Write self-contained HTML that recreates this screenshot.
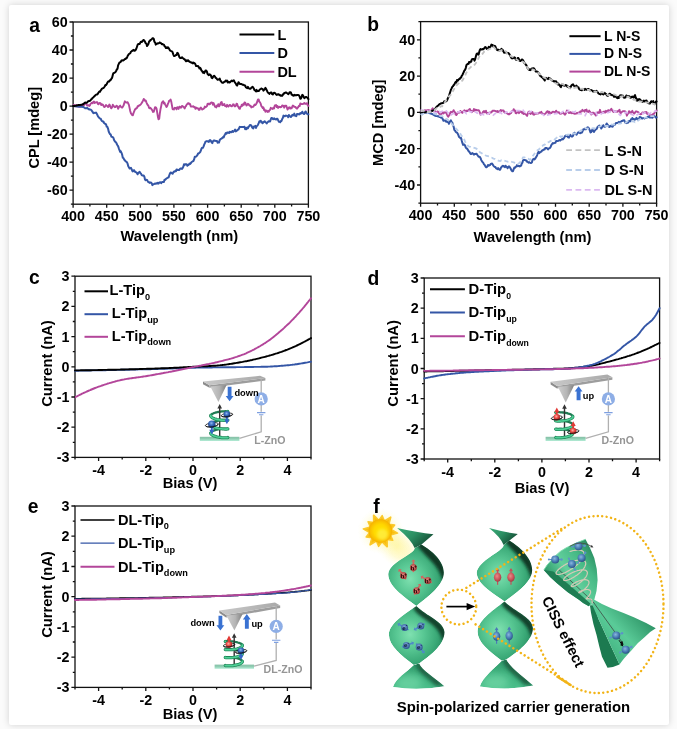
<!DOCTYPE html>
<html><head><meta charset="utf-8"><title>Figure</title>
<style>
html,body{margin:0;padding:0;background:#fbfbfb;}
body{width:677px;height:729px;overflow:hidden;position:relative;font-family:"Liberation Sans",sans-serif;}
.card{position:absolute;left:9px;top:5px;width:660px;height:719.8px;background:#fff;border-radius:2px;box-shadow:0 0 7px rgba(0,0,0,0.17);}
svg{position:absolute;left:0;top:0;will-change:transform;}
svg text{font-family:"Liberation Sans",sans-serif;font-weight:bold;fill:#000;}
</style></head><body>
<div class="card"></div>
<svg width="677" height="729" viewBox="0 0 677 729">
<rect x="73.1" y="22" width="235.3" height="182.2" fill="none" stroke="#111" stroke-width="1.3"/>
<polyline points="73.1,105.7 73.8,105 74.4,105.1 75.1,105.5 75.8,106.3 76.5,104.9 77.1,105.5 77.8,106.5 78.5,106 79.2,106.1 79.8,106.9 80.5,105.2 81.2,106.4 81.8,105.8 82.5,105.1 83.2,103.8 83.9,105.4 84.5,104.3 85.2,103.8 85.9,103 86.5,104.3 87.2,105.6 87.9,105.4 88.6,105.1 89.2,106 89.9,105.3 90.6,103.8 91.3,103.3 91.9,102.8 92.6,103.2 93.3,101.8 93.9,101.5 94.6,103 95.3,102.4 96,102.5 96.6,102.2 97.3,102.3 98,104.1 98.6,104.3 99.3,103.2 100,102.9 100.7,103.4 101.3,105.1 102,104.5 102.7,104.4 103.4,105.6 104,106.8 104.7,107 105.4,106 106,105 106.7,105.6 107.4,106.2 108.1,107 108.7,106.1 109.4,104.5 110.1,106 110.7,107.5 111.4,108.3 112.1,107.3 112.8,104.7 113.4,105.7 114.1,106.5 114.8,107.2 115.5,107 116.1,106 116.8,105.7 117.5,106.8 118.1,108.8 118.8,107.3 119.5,106.2 120.2,105.6 120.8,106.8 121.5,107.3 122.2,107.6 122.8,106.7 123.5,105.6 124.2,103.4 124.9,101.3 125.5,102.1 126.2,102.5 126.9,102.3 127.6,102.1 128.2,103.3 128.9,104.9 129.6,108.1 130.2,111 130.9,113.3 131.6,114.1 132.3,115.1 132.9,115.3 133.6,112.8 134.3,111.2 135,109.2 135.6,109.3 136.3,108.1 137,108 137.6,106.2 138.3,106.4 139,105.4 139.7,105.3 140.3,104.8 141,104.1 141.7,103 142.3,102.1 143,100.7 143.7,99 144.4,99.7 145,100.8 145.7,100.4 146.4,102.3 147.1,104 147.7,105 148.4,105.7 149.1,107.9 149.7,108.3 150.4,107.8 151.1,108.6 151.8,109.5 152.4,110.6 153.1,112 153.8,111.7 154.4,109.4 155.1,107.1 155.8,107.3 156.5,108.4 157.1,111.8 157.8,116.2 158.5,119.4 159.2,118.8 159.8,113.7 160.5,109.2 161.2,106.1 161.8,102.8 162.5,102 163.2,101.2 163.9,103.5 164.5,102.8 165.2,104.6 165.9,105.9 166.5,107 167.2,105.9 167.9,103.9 168.6,102.4 169.2,100.6 169.9,100.6 170.6,99.6 171.3,101.8 171.9,105.1 172.6,109.2 173.3,109.2 173.9,109.5 174.6,107.8 175.3,108.3 176,107.9 176.6,109.3 177.3,107.1 178,108.2 178.6,108.9 179.3,106.8 180,106.8 180.7,107.7 181.3,107.5 182,105.9 182.7,106.3 183.4,106.8 184,107.4 184.7,108.4 185.4,106.6 186,106 186.7,104.6 187.4,104.1 188.1,103.1 188.7,103.1 189.4,104.3 190.1,104 190.8,106.6 191.4,106.5 192.1,106.6 192.8,106.5 193.4,106.2 194.1,107.3 194.8,107 195.5,108.8 196.1,107.6 196.8,108.4 197.5,108.2 198.1,108.4 198.8,109.9 199.5,109.8 200.2,108.2 200.8,107.5 201.5,108.4 202.2,109.6 202.9,109.1 203.5,108.9 204.2,108.1 204.9,106.5 205.5,107.3 206.2,106.7 206.9,106.3 207.6,103.8 208.2,104.4 208.9,103.5 209.6,104.3 210.2,103.9 210.9,102.6 211.6,102.5 212.3,102.6 212.9,104.7 213.6,103.1 214.3,104.8 215,106.7 215.6,106.4 216.3,107.5 217,105.6 217.6,106 218.3,104.2 219,106.4 219.7,105.4 220.3,103.9 221,102.4 221.7,102 222.3,105.2 223,104.3 223.7,105.1 224.4,104 225,106 225.7,105.9 226.4,106.7 227.1,104.8 227.7,105.8 228.4,106.5 229.1,105.7 229.7,104.9 230.4,105.2 231.1,106.1 231.8,106.3 232.4,105.8 233.1,104.3 233.8,104.5 234.4,105.9 235.1,106.4 235.8,105.8 236.5,103.7 237.1,103.9 237.8,106.2 238.5,107 239.2,108.6 239.8,108.8 240.5,106.9 241.2,106.5 241.8,104.6 242.5,105.7 243.2,104.1 243.9,104.8 244.5,102.4 245.2,102.6 245.9,104.4 246.5,105.5 247.2,104.8 247.9,103.7 248.6,104.2 249.2,105.2 249.9,105.8 250.6,105.7 251.3,107.4 251.9,107 252.6,106.8 253.3,106.8 253.9,105.7 254.6,104.6 255.3,105 256,104.3 256.6,103.3 257.3,101.4 258,99.4 258.7,99.4 259.3,101.8 260,102.3 260.7,103.7 261.3,105.9 262,106.8 262.7,108 263.4,107.3 264,110.1 264.7,109.5 265.4,111.8 266,111 266.7,110.6 267.4,111.9 268.1,111 268.7,111.8 269.4,110.3 270.1,109.9 270.8,107.8 271.4,108.5 272.1,108.4 272.8,108.9 273.4,107.8 274.1,108.4 274.8,105.5 275.5,105.4 276.1,105 276.8,107.1 277.5,106.1 278.1,107.9 278.8,106.9 279.5,106.8 280.2,107 280.8,107.3 281.5,106.9 282.2,105.4 282.9,105.6 283.5,106 284.2,107.7 284.9,105.7 285.5,105.9 286.2,105.7 286.9,107.6 287.6,109.6 288.2,108.6 288.9,107.5 289.6,107.3 290.2,108.6 290.9,107.7 291.6,108.3 292.3,106.6 292.9,105.6 293.6,106.6 294.3,106.4 295,107.1 295.6,107 296.3,108.3 297,108.7 297.6,107.8 298.3,107 299,105.8 299.7,106.1 300.3,103.5 301,103.7 301.7,104.1 302.3,104.1 303,104 303.7,103.6 304.4,102.9 305,103.8 305.7,103.9 306.4,103.4 307.1,103.2 307.7,105.1 308.4,105.9" fill="none" stroke="#b3469a" stroke-width="1.9" stroke-linejoin="round" stroke-linecap="round" />
<polyline points="73.1,106.1 73.8,106.1 74.4,106.2 75.1,106.2 75.8,106.3 76.5,106.4 77.1,106.5 77.8,106.6 78.5,106.7 79.2,106.6 79.8,106.6 80.5,106.5 81.2,106.7 81.8,106.7 82.5,106.9 83.2,106.9 83.9,107.4 84.5,107.6 85.2,108.3 85.9,108.3 86.5,108.3 87.2,107.8 87.9,108.7 88.6,109 89.2,109.6 89.9,109.4 90.6,109.6 91.3,110 91.9,110.9 92.6,111.9 93.3,113.1 93.9,112.7 94.6,112.9 95.3,112.8 96,112.6 96.6,113.6 97.3,114.8 98,116.4 98.6,117.1 99.3,117.9 100,118.5 100.7,118.7 101.3,120.2 102,121 102.7,121.6 103.4,121.5 104,122.9 104.7,123.5 105.4,124.1 106,124.2 106.7,126.6 107.4,126.9 108.1,128.8 108.7,131.5 109.4,133 110.1,134.3 110.7,134.5 111.4,136.8 112.1,136.8 112.8,137.1 113.4,137.8 114.1,140.1 114.8,141.3 115.5,142 116.1,142.4 116.8,144.1 117.5,145.3 118.1,146.1 118.8,148.3 119.5,150.1 120.2,151.9 120.8,151.3 121.5,152.8 122.2,154.9 122.8,157.7 123.5,158.1 124.2,159.7 124.9,160.3 125.5,161.3 126.2,161.6 126.9,162.2 127.6,163.7 128.2,166 128.9,167.3 129.6,168.5 130.2,168.1 130.9,167.8 131.6,169.2 132.3,170.9 132.9,171.4 133.6,170.3 134.3,170.3 135,171.8 135.6,172 136.3,172.3 137,173.3 137.6,174.3 138.3,172.8 139,172.4 139.7,171.8 140.3,173.2 141,173.6 141.7,175.1 142.3,175.5 143,175.6 143.7,175.5 144.4,176.8 145,179.5 145.7,180.2 146.4,179.8 147.1,179.9 147.7,181.2 148.4,182.3 149.1,182.3 149.7,182.9 150.4,182.6 151.1,182.6 151.8,183.4 152.4,185.1 153.1,184.5 153.8,184.2 154.4,183.8 155.1,183.5 155.8,183.8 156.5,183.2 157.1,183.4 157.8,182.8 158.5,183.6 159.2,182.5 159.8,182.5 160.5,182.2 161.2,183.2 161.8,182.1 162.5,181.9 163.2,182 163.9,181.9 164.5,179.8 165.2,179.8 165.9,178.9 166.5,178.4 167.2,178.1 167.9,177.5 168.6,177.5 169.2,175.5 169.9,173.6 170.6,172.5 171.3,172.7 171.9,173.3 172.6,173.7 173.3,172.4 173.9,171.6 174.6,171.8 175.3,170.7 176,171.2 176.6,169.4 177.3,169.6 178,170.1 178.6,170 179.3,169.9 180,168.8 180.7,168.4 181.3,168.5 182,169 182.7,167.9 183.4,166.5 184,164.3 184.7,164.9 185.4,164.2 186,164.6 186.7,164.3 187.4,165.8 188.1,164.7 188.7,164.9 189.4,163.6 190.1,163.9 190.8,163.3 191.4,162.2 192.1,161.7 192.8,161.2 193.4,161 194.1,159.4 194.8,156.7 195.5,156.7 196.1,156.6 196.8,155.9 197.5,154.9 198.1,153.5 198.8,153.4 199.5,152.7 200.2,152.1 200.8,150.7 201.5,148.6 202.2,147.7 202.9,147.8 203.5,146.6 204.2,144.7 204.9,143.2 205.5,141.7 206.2,141.4 206.9,141.1 207.6,141.4 208.2,141.3 208.9,141.9 209.6,140.3 210.2,140.1 210.9,140.8 211.6,142.4 212.3,143.1 212.9,141.4 213.6,140.5 214.3,140.5 215,140.7 215.6,140.9 216.3,140.9 217,141 217.6,142.8 218.3,142.2 219,142.5 219.7,140.1 220.3,139.3 221,138.8 221.7,138.5 222.3,138 223,137.1 223.7,137.4 224.4,135.4 225,134.4 225.7,133.1 226.4,133.8 227.1,132.5 227.7,132.4 228.4,132.8 229.1,132.9 229.7,131.8 230.4,132 231.1,132.3 231.8,132.1 232.4,131 233.1,131.9 233.8,131.2 234.4,130.7 235.1,129.6 235.8,131.4 236.5,131 237.1,130.4 237.8,129.7 238.5,129.5 239.2,127.9 239.8,126.8 240.5,127.1 241.2,126.9 241.8,126.9 242.5,126.9 243.2,127 243.9,126.9 244.5,126.7 245.2,129.3 245.9,128 246.5,129.1 247.2,127.5 247.9,128.3 248.6,126.8 249.2,126.1 249.9,125.1 250.6,125.1 251.3,125.4 251.9,126.9 252.6,128 253.3,128.5 253.9,126.5 254.6,126.5 255.3,125.9 256,127.9 256.6,126.2 257.3,125.7 258,124.7 258.7,123.2 259.3,121.5 260,121.2 260.7,120.7 261.3,122.4 262,122 262.7,123.1 263.4,122.3 264,121.9 264.7,121.2 265.4,122.3 266,122.4 266.7,123.4 267.4,122.3 268.1,121.9 268.7,121.2 269.4,121.4 270.1,121.5 270.8,119.3 271.4,117.9 272.1,117.9 272.8,119.1 273.4,119.3 274.1,118.3 274.8,119 275.5,119.3 276.1,119.5 276.8,118.8 277.5,118.8 278.1,120.1 278.8,121.7 279.5,121.8 280.2,122.3 280.8,121.1 281.5,121 282.2,119 282.9,117.8 283.5,115.6 284.2,116 284.9,116.2 285.5,115.6 286.2,115.8 286.9,115.7 287.6,116.2 288.2,117.1 288.9,115 289.6,116.2 290.2,116.3 290.9,117 291.6,116.2 292.3,114.9 292.9,115.4 293.6,115.3 294.3,113.6 295,115.7 295.6,115.6 296.3,116.2 297,114.1 297.6,114 298.3,114 299,114.5 299.7,114.2 300.3,113.1 301,113.5 301.7,112.9 302.3,111.7 303,113.2 303.7,113.9 304.4,114 305,112.2 305.7,111.5 306.4,113.1 307.1,113.7 307.7,114.3 308.4,114.3" fill="none" stroke="#3456a6" stroke-width="2.0" stroke-linejoin="round" stroke-linecap="round" />
<polyline points="73.1,106.1 73.8,106 74.4,105.9 75.1,105.8 75.8,105.7 76.5,105.5 77.1,105.4 77.8,105.2 78.5,105.1 79.2,105 79.8,104.9 80.5,104.9 81.2,104.7 81.8,104.8 82.5,104.4 83.2,104.2 83.9,103.5 84.5,103.1 85.2,102.5 85.9,102.7 86.5,102.7 87.2,102.6 87.9,101.4 88.6,101.1 89.2,101.1 89.9,100.9 90.6,100.2 91.3,99.2 91.9,98.8 92.6,97.9 93.3,97.5 93.9,96.6 94.6,96.2 95.3,95.2 96,94.7 96.6,94.6 97.3,94.6 98,93.4 98.6,92.5 99.3,91.5 100,91.7 100.7,90.4 101.3,89.8 102,88.6 102.7,88.3 103.4,88.1 104,87.4 104.7,86.5 105.4,85 106,85.1 106.7,84.2 107.4,82.6 108.1,81.7 108.7,81.3 109.4,81.4 110.1,80.1 110.7,80 111.4,78.7 112.1,77.8 112.8,74.9 113.4,73.2 114.1,73 114.8,72.6 115.5,72 116.1,71 116.8,69.5 117.5,68.8 118.1,65.4 118.8,63.9 119.5,62.4 120.2,62.3 120.8,61.8 121.5,60.4 122.2,60.3 122.8,60.4 123.5,60.4 124.2,59.7 124.9,59.1 125.5,59.1 126.2,58 126.9,58 127.6,56 128.2,55.1 128.9,54 129.6,53.6 130.2,53.4 130.9,51.8 131.6,51.3 132.3,50.6 132.9,50.7 133.6,49.9 134.3,50.7 135,50.7 135.6,50 136.3,48.8 137,46.7 137.6,44.8 138.3,44 139,44 139.7,43.9 140.3,42.6 141,41.7 141.7,42.1 142.3,41.5 143,40.3 143.7,40 144.4,40.7 145,41.8 145.7,43.2 146.4,43.7 147.1,46.1 147.7,45.1 148.4,44 149.1,41.5 149.7,41.2 150.4,39.9 151.1,39.8 151.8,39.1 152.4,38.3 153.1,38.3 153.8,39 154.4,41.8 155.1,42.4 155.8,44.6 156.5,44 157.1,43.8 157.8,43.2 158.5,43.4 159.2,43 159.8,42.4 160.5,43.1 161.2,43.3 161.8,44.2 162.5,44 163.2,44.6 163.9,44.7 164.5,46.1 165.2,46.6 165.9,48 166.5,47.4 167.2,48.1 167.9,47.2 168.6,48.1 169.2,49.1 169.9,50.3 170.6,50.9 171.3,51.1 171.9,51.4 172.6,52.2 173.3,54.5 173.9,56 174.6,56 175.3,55.6 176,54.8 176.6,55 177.3,52.9 178,53.4 178.6,54.9 179.3,56.9 180,58 180.7,57.9 181.3,57.9 182,57.3 182.7,58 183.4,58.5 184,59.2 184.7,59.2 185.4,60.4 186,61.3 186.7,60.4 187.4,60.9 188.1,60.2 188.7,61.3 189.4,61.3 190.1,62.1 190.8,62.3 191.4,62.7 192.1,62.6 192.8,63.4 193.4,62.5 194.1,63 194.8,63.3 195.5,64.5 196.1,66.1 196.8,66.1 197.5,66.2 198.1,66 198.8,67 199.5,68.5 200.2,67.9 200.8,68.8 201.5,70.6 202.2,71.2 202.9,72.6 203.5,71.9 204.2,73.1 204.9,71.8 205.5,70.5 206.2,70.5 206.9,71.6 207.6,74 208.2,74.7 208.9,75.2 209.6,74.3 210.2,74.6 210.9,75.4 211.6,77.6 212.3,78.1 212.9,77.2 213.6,75.9 214.3,75.8 215,76.6 215.6,77.8 216.3,78.2 217,79.1 217.6,79.7 218.3,79.5 219,79.4 219.7,78.6 220.3,80.5 221,81.2 221.7,82.3 222.3,82.7 223,82.8 223.7,82.4 224.4,81.7 225,81.7 225.7,80.5 226.4,81.1 227.1,80.6 227.7,82.5 228.4,81.7 229.1,82.4 229.7,82.4 230.4,81.9 231.1,81 231.8,80.6 232.4,81.2 233.1,80.7 233.8,80.3 234.4,81.5 235.1,82.7 235.8,83.6 236.5,85 237.1,85.6 237.8,84 238.5,82.2 239.2,83.1 239.8,84.1 240.5,84.1 241.2,83.9 241.8,84.1 242.5,84.8 243.2,84.8 243.9,85 244.5,85.5 245.2,85.5 245.9,87.4 246.5,87.7 247.2,88.1 247.9,86.9 248.6,88.2 249.2,88.5 249.9,88.7 250.6,88.7 251.3,87.7 251.9,87.2 252.6,86.7 253.3,87.7 253.9,88.8 254.6,90.2 255.3,90.4 256,91.4 256.6,89.9 257.3,91.2 258,90.9 258.7,91.1 259.3,90.2 260,89.4 260.7,89 261.3,88.5 262,88.8 262.7,89.2 263.4,90.7 264,89.9 264.7,89.4 265.4,87.8 266,88.7 266.7,90.1 267.4,91.7 268.1,92.8 268.7,93 269.4,93.9 270.1,93 270.8,92.4 271.4,92.5 272.1,94.1 272.8,94.5 273.4,93.5 274.1,92.7 274.8,92.9 275.5,93.5 276.1,94.5 276.8,94.9 277.5,94.6 278.1,94.2 278.8,94.3 279.5,95.2 280.2,95.1 280.8,95.8 281.5,95.5 282.2,95.8 282.9,94.3 283.5,94.4 284.2,93 284.9,93 285.5,92.4 286.2,92.5 286.9,93.1 287.6,93.5 288.2,94.2 288.9,93.6 289.6,92.2 290.2,92.3 290.9,92.5 291.6,94.8 292.3,94.7 292.9,95.5 293.6,95.7 294.3,94.9 295,95.4 295.6,95.2 296.3,95.2 297,95 297.6,94.9 298.3,95 299,95.4 299.7,96.9 300.3,98.7 301,98.5 301.7,96.6 302.3,94.9 303,95.3 303.7,97.1 304.4,98.1 305,97.7 305.7,96.9 306.4,96.9 307.1,97.6 307.7,97.9 308.4,99.1" fill="none" stroke="#000000" stroke-width="2.0" stroke-linejoin="round" stroke-linecap="round" />
<path d="M73.1,204.2v3.6M106.7,204.2v3.6M140.3,204.2v3.6M173.9,204.2v3.6M207.6,204.2v3.6M241.2,204.2v3.6M274.8,204.2v3.6M308.4,204.2v3.6M89.9,204.2v2.2M123.5,204.2v2.2M157.1,204.2v2.2M190.8,204.2v2.2M224.4,204.2v2.2M258,204.2v2.2M291.6,204.2v2.2" stroke="#111" stroke-width="1.3" fill="none"/>
<text x="73.1" y="221.2" text-anchor="middle" font-size="14.3">400</text>
<text x="106.7" y="221.2" text-anchor="middle" font-size="14.3">450</text>
<text x="140.3" y="221.2" text-anchor="middle" font-size="14.3">500</text>
<text x="173.9" y="221.2" text-anchor="middle" font-size="14.3">550</text>
<text x="207.6" y="221.2" text-anchor="middle" font-size="14.3">600</text>
<text x="241.2" y="221.2" text-anchor="middle" font-size="14.3">650</text>
<text x="274.8" y="221.2" text-anchor="middle" font-size="14.3">700</text>
<text x="308.4" y="221.2" text-anchor="middle" font-size="14.3">750</text>
<path d="M73.1,190.2h-3.6M73.1,162.2h-3.6M73.1,134.1h-3.6M73.1,106.1h-3.6M73.1,78.1h-3.6M73.1,50h-3.6M73.1,22h-3.6M73.1,204.2h-2.2M73.1,176.2h-2.2M73.1,148.1h-2.2M73.1,120.1h-2.2M73.1,92.1h-2.2M73.1,64h-2.2M73.1,36h-2.2" stroke="#111" stroke-width="1.3" fill="none"/>
<text x="67.6" y="195.2" text-anchor="end" font-size="14.3">-60</text>
<text x="67.6" y="167.2" text-anchor="end" font-size="14.3">-40</text>
<text x="67.6" y="139.1" text-anchor="end" font-size="14.3">-20</text>
<text x="67.6" y="111.1" text-anchor="end" font-size="14.3">0</text>
<text x="67.6" y="83.1" text-anchor="end" font-size="14.3">20</text>
<text x="67.6" y="55" text-anchor="end" font-size="14.3">40</text>
<text x="67.6" y="27" text-anchor="end" font-size="14.3">60</text>
<text transform="translate(38.5,127.8) rotate(-90)" text-anchor="middle" font-size="14.6">CPL [mdeg]</text>
<text x="179.3" y="241.4" text-anchor="middle" font-size="14.7">Wavelength (nm)</text>
<text x="29.2" y="31.6" font-size="19.3">a</text>
<path d="M239.5,34.5H274.3" stroke="#000000" stroke-width="2"/>
<text x="277.4" y="39.7" font-size="14.5">L</text>
<path d="M239.5,53.1H274.3" stroke="#3456a6" stroke-width="2"/>
<text x="277.4" y="58.3" font-size="14.5">D</text>
<path d="M239.5,71.7H274.3" stroke="#b3469a" stroke-width="2"/>
<text x="277.4" y="76.9" font-size="14.5">DL</text>
<rect x="420.6" y="21.6" width="236" height="181.6" fill="none" stroke="#111" stroke-width="1.3"/>
<polyline points="420.6,112 421.3,111.6 421.9,111.3 422.6,111.1 423.3,111.8 424,111.4 424.6,110.2 425.3,110.3 426,111 426.7,110.3 427.3,111.2 428,109.9 428.7,111.2 429.4,110.3 430,111.9 430.7,111.7 431.4,110.1 432.1,109.2 432.7,108.2 433.4,110.5 434.1,109.2 434.8,111.2 435.4,111.9 436.1,112.7 436.8,111.6 437.5,111.5 438.1,111.7 438.8,113 439.5,114.1 440.2,114.6 440.8,114.3 441.5,113.7 442.2,113.2 442.9,112.3 443.5,113.5 444.2,112.6 444.9,112.3 445.5,112.5 446.2,112.4 446.9,114.3 447.6,116 448.2,116.8 448.9,115.5 449.6,114.9 450.3,112.6 450.9,111.8 451.6,112.4 452.3,112 453,111.4 453.6,110.2 454.3,111.7 455,112.3 455.7,114.6 456.3,115.1 457,114.2 457.7,112.2 458.4,112.2 459,112.7 459.7,112.2 460.4,110.9 461.1,112.2 461.7,112.2 462.4,112.9 463.1,111.5 463.8,111.4 464.4,110.3 465.1,110.8 465.8,111.4 466.5,111.2 467.1,110.4 467.8,111 468.5,110.6 469.1,109.4 469.8,108.9 470.5,110.6 471.2,110.7 471.8,112.2 472.5,111.1 473.2,111 473.9,109 474.5,110.7 475.2,109.8 475.9,109.8 476.6,110.4 477.2,110.2 477.9,110.4 478.6,110.1 479.3,111.1 479.9,112.5 480.6,114.6 481.3,113.7 482,113.5 482.6,112.8 483.3,111.5 484,111.1 484.7,112.3 485.3,111.7 486,110.8 486.7,113.4 487.4,113 488,113.2 488.7,112.8 489.4,113.7 490.1,112.3 490.7,112.5 491.4,112.3 492.1,111.4 492.7,110.6 493.4,110.7 494.1,110.6 494.8,110.9 495.4,111 496.1,111.4 496.8,111.8 497.5,110.9 498.1,112.2 498.8,111.6 499.5,112.2 500.2,110.6 500.8,110 501.5,111.1 502.2,110.4 502.9,110.4 503.5,110.4 504.2,112.2 504.9,112.9 505.6,112.5 506.2,112.4 506.9,113 507.6,113.8 508.3,114.3 508.9,114.1 509.6,114.3 510.3,113.1 511,113.1 511.6,111.8 512.3,110.9 513,111 513.7,109.2 514.3,110.5 515,110.5 515.7,113.2 516.3,113.4 517,112.4 517.7,112.4 518.4,111.7 519,113.2 519.7,111.6 520.4,111.5 521.1,112.2 521.7,111.7 522.4,113.3 523.1,112.4 523.8,114 524.4,113.4 525.1,114 525.8,114.3 526.5,115.3 527.1,115.9 527.8,113.4 528.5,111.8 529.2,111.5 529.8,113.1 530.5,114 531.2,113.4 531.9,113.1 532.5,112.1 533.2,114.4 533.9,114.8 534.6,114.1 535.2,113.3 535.9,113.8 536.6,113.6 537.3,113.5 537.9,113.5 538.6,113.3 539.3,112.6 539.9,112.5 540.6,112.8 541.3,111.8 542,113.8 542.6,113.5 543.3,113.9 544,114.2 544.7,114.2 545.3,113.6 546,112.9 546.7,111.9 547.4,111.2 548,111.4 548.7,113.3 549.4,111.8 550.1,113 550.7,113.1 551.4,113.1 552.1,112.2 552.8,111.7 553.4,111.8 554.1,111.9 554.8,112.7 555.5,111.9 556.1,110.7 556.8,111.8 557.5,112.2 558.2,112.6 558.8,112.2 559.5,113 560.2,113.8 560.9,113.5 561.5,113.5 562.2,112.7 562.9,112.4 563.5,112.9 564.2,113.8 564.9,114.7 565.6,113.8 566.2,112.8 566.9,110.5 567.6,111.1 568.3,112 568.9,113 569.6,112.9 570.3,112.1 571,112.9 571.6,113.3 572.3,112.2 573,113.3 573.7,112.8 574.3,113.9 575,113.9 575.7,113.7 576.4,113.5 577,112.7 577.7,113.3 578.4,113.2 579.1,112.2 579.7,112.9 580.4,111.3 581.1,111.5 581.8,111.5 582.4,109.8 583.1,110.5 583.8,110.8 584.5,111.8 585.1,109.9 585.8,110.5 586.5,109.5 587.1,111.7 587.8,111.4 588.5,111.9 589.2,110.6 589.8,111.7 590.5,112.5 591.2,114.5 591.9,114 592.5,112.8 593.2,112.7 593.9,112.9 594.6,114.3 595.2,113.9 595.9,115.6 596.6,114.2 597.3,112.3 597.9,113.1 598.6,112.3 599.3,112.7 600,109.8 600.6,112.3 601.3,112.4 602,113.1 602.7,112.9 603.3,111.7 604,112.5 604.7,111.4 605.4,112.4 606,110.8 606.7,111.7 607.4,111.3 608.1,110.2 608.7,110.1 609.4,111.9 610.1,110.8 610.7,109.7 611.4,108.8 612.1,110.2 612.8,111.3 613.4,112 614.1,111.1 614.8,111.1 615.5,111.9 616.1,111.8 616.8,111.4 617.5,111.8 618.2,111 618.8,110.6 619.5,109.8 620.2,112.5 620.9,113.3 621.5,112.1 622.2,111.7 622.9,111.1 623.6,111.1 624.2,111.2 624.9,111.2 625.6,111.9 626.3,113.3 626.9,115.7 627.6,114 628.3,113.5 629,111.3 629.6,111.4 630.3,112.8 631,112.8 631.7,112 632.3,110.8 633,112.4 633.7,113 634.3,113.6 635,112.7 635.7,111.4 636.4,111.4 637,111.6 637.7,112 638.4,112.1 639.1,113.6 639.7,113.6 640.4,114.4 641.1,114.2 641.8,113.7 642.4,112.4 643.1,112.5 643.8,113.2 644.5,113 645.1,112.1 645.8,112.6 646.5,112.1 647.2,114 647.8,114 648.5,113.5 649.2,114.2 649.9,115.7 650.5,115.6 651.2,115.1 651.9,115.4 652.6,114.8 653.2,113.9 653.9,113.9 654.6,112.8 655.3,111.4 655.9,111 656.6,110.4" fill="none" stroke="#b3469a" stroke-width="1.9" stroke-linejoin="round" stroke-linecap="round" />
<polyline points="420.6,112.4 421.3,112.4 421.9,112.4 422.6,112.4 423.3,112.5 424,112.5 424.6,112.5 425.3,112.6 426,112.6 426.7,112.7 427.3,112.8 428,112.8 428.7,113 429.4,113.1 430,113.3 430.7,113.6 431.4,113.8 432.1,114 432.7,114.3 433.4,114.6 434.1,115.2 434.8,115.6 435.4,115.8 436.1,116 436.8,115.9 437.5,116.1 438.1,116.5 438.8,116.3 439.5,116.9 440.2,116.9 440.8,117.5 441.5,117.8 442.2,117.9 442.9,119.5 443.5,120.8 444.2,120.4 444.9,120.7 445.5,120.5 446.2,121.8 446.9,121.5 447.6,122.1 448.2,122.2 448.9,123.8 449.6,121.9 450.3,121.2 450.9,120.3 451.6,122.1 452.3,122.6 453,125.5 453.6,126.4 454.3,129.8 455,130.6 455.7,131.8 456.3,132.4 457,132.7 457.7,133.6 458.4,135.1 459,136.9 459.7,137.3 460.4,138.3 461.1,137.9 461.7,140.4 462.4,142.9 463.1,144.9 463.8,144.6 464.4,144.4 465.1,145.7 465.8,147.6 466.5,148.5 467.1,148.6 467.8,149.8 468.5,151 469.1,151.7 469.8,152.5 470.5,153.9 471.2,154 471.8,153.4 472.5,153 473.2,153.9 473.9,154.7 474.5,153.9 475.2,154.1 475.9,153.8 476.6,153.7 477.2,154.7 477.9,155.7 478.6,156.7 479.3,156.8 479.9,157 480.6,158.2 481.3,160.1 482,161.4 482.6,162.1 483.3,162.9 484,164.3 484.7,164.9 485.3,166.2 486,167.3 486.7,167.2 487.4,166.1 488,165 488.7,165.8 489.4,165.2 490.1,165.1 490.7,163.9 491.4,163.7 492.1,163.6 492.7,164.5 493.4,165.6 494.1,166.5 494.8,167 495.4,167.1 496.1,168.3 496.8,168.6 497.5,169.2 498.1,168.1 498.8,169.2 499.5,169.7 500.2,169.7 500.8,168.1 501.5,166.9 502.2,166.3 502.9,165.8 503.5,166.4 504.2,166.3 504.9,167.2 505.6,165.7 506.2,166.8 506.9,167 507.6,168.1 508.3,167 508.9,166.4 509.6,166.9 510.3,168.1 511,169.3 511.6,170.6 512.3,171.2 513,171.2 513.7,169.2 514.3,167.6 515,167.7 515.7,167 516.3,166.4 517,165.1 517.7,166.2 518.4,166.1 519,166.1 519.7,166.4 520.4,165.9 521.1,165.6 521.7,163.6 522.4,162.6 523.1,160.2 523.8,160 524.4,160 525.1,159.9 525.8,160.5 526.5,160.6 527.1,161.8 527.8,161.8 528.5,162.7 529.2,162.2 529.8,162.6 530.5,163 531.2,162.9 531.9,162.5 532.5,160.1 533.2,159.1 533.9,158.8 534.6,159.4 535.2,158.7 535.9,157.3 536.6,156.4 537.3,154.8 537.9,152.9 538.6,151.6 539.3,153.1 539.9,152.6 540.6,152 541.3,151.6 542,150.5 542.6,150.4 543.3,149.9 544,149.4 544.7,149.5 545.3,147.9 546,148 546.7,148 547.4,148.7 548,149.4 548.7,148.6 549.4,148.2 550.1,147.8 550.7,146.7 551.4,145 552.1,144 552.8,143 553.4,143.5 554.1,143.1 554.8,142.9 555.5,142.7 556.1,141 556.8,141.1 557.5,141.1 558.2,140.8 558.8,140.5 559.5,140 560.2,140.6 560.9,139.9 561.5,139.5 562.2,138.9 562.9,139.4 563.5,138.6 564.2,137.8 564.9,136.3 565.6,135.6 566.2,135.9 566.9,135.8 567.6,136.8 568.3,137.4 568.9,137.6 569.6,135.6 570.3,134.9 571,135.8 571.6,136.5 572.3,136.6 573,135.9 573.7,133.9 574.3,132.7 575,133.4 575.7,133.8 576.4,134.8 577,134 577.7,133 578.4,132.3 579.1,131.9 579.7,133 580.4,133.2 581.1,132.8 581.8,132.6 582.4,131.7 583.1,129.5 583.8,129.4 584.5,128.7 585.1,129.2 585.8,129.3 586.5,128.4 587.1,127.7 587.8,127.3 588.5,127.8 589.2,129 589.8,130.4 590.5,132.5 591.2,132.1 591.9,130.4 592.5,129.3 593.2,131 593.9,131.9 594.6,130.7 595.2,130.1 595.9,129.3 596.6,129.1 597.3,127.6 597.9,126.6 598.6,126.6 599.3,125.6 600,126.4 600.6,127.1 601.3,128.5 602,127.2 602.7,126.3 603.3,125.2 604,126.5 604.7,126.7 605.4,126.6 606,125.1 606.7,123.5 607.4,124.6 608.1,125.2 608.7,126.6 609.4,127 610.1,126.3 610.7,125.7 611.4,126.4 612.1,126.7 612.8,126.5 613.4,124.7 614.1,125.1 614.8,124.8 615.5,123.7 616.1,123 616.8,123.1 617.5,123 618.2,122.4 618.8,121.9 619.5,122.5 620.2,122 620.9,121.9 621.5,121.1 622.2,121.1 622.9,120.4 623.6,120.3 624.2,120.2 624.9,122 625.6,122.8 626.3,122.4 626.9,123.1 627.6,122 628.3,122.4 629,121 629.6,121 630.3,121.3 631,119.2 631.7,119.5 632.3,118 633,119 633.7,118.9 634.3,119.7 635,119.5 635.7,119.3 636.4,117.8 637,118.5 637.7,119.4 638.4,119.5 639.1,118.9 639.7,116.9 640.4,117.1 641.1,117.6 641.8,118.5 642.4,118.6 643.1,118 643.8,117.9 644.5,118.4 645.1,118 645.8,118 646.5,118.1 647.2,117.3 647.8,116.6 648.5,116.4 649.2,117.4 649.9,117.6 650.5,117.3 651.2,117.6 651.9,117.2 652.6,117.6 653.2,116.4 653.9,116.1 654.6,116.1 655.3,116.9 655.9,117.7 656.6,117.2" fill="none" stroke="#3456a6" stroke-width="2.0" stroke-linejoin="round" stroke-linecap="round" />
<polyline points="420.6,112.4 421.3,112.4 421.9,112.4 422.6,112.4 423.3,112.3 424,112.3 424.6,112.3 425.3,112.2 426,112.2 426.7,112.1 427.3,112 428,112 428.7,111.8 429.4,111.7 430,111.6 430.7,111.3 431.4,111.2 432.1,110.9 432.7,110.8 433.4,110.4 434.1,109.8 434.8,109.3 435.4,108.5 436.1,107.4 436.8,106.6 437.5,105.9 438.1,105.6 438.8,104.8 439.5,104.2 440.2,103.8 440.8,103.5 441.5,103.3 442.2,103.2 442.9,102.9 443.5,102.8 444.2,101.4 444.9,101.8 445.5,101.2 446.2,101.3 446.9,100.6 447.6,99 448.2,97.5 448.9,96.5 449.6,93.9 450.3,91.7 450.9,89.7 451.6,88.4 452.3,86.8 453,86.3 453.6,85.1 454.3,84.6 455,82.8 455.7,82 456.3,82.6 457,80 457.7,80.8 458.4,79.9 459,79 459.7,79.1 460.4,77.7 461.1,77.6 461.7,75.9 462.4,75 463.1,73.4 463.8,72 464.4,70.4 465.1,69.8 465.8,67.8 466.5,65 467.1,64.4 467.8,63.7 468.5,63.9 469.1,61.9 469.8,62.5 470.5,61.5 471.2,61.7 471.8,59.4 472.5,59 473.2,59.1 473.9,59.1 474.5,60.7 475.2,59 475.9,56.2 476.6,53.9 477.2,53.4 477.9,54.1 478.6,54.6 479.3,51.7 479.9,49.8 480.6,49 481.3,49.4 482,49.4 482.6,48.9 483.3,49.2 484,48.5 484.7,47.7 485.3,47 486,47.6 486.7,48.9 487.4,48.8 488,48.4 488.7,46.9 489.4,47.5 490.1,47.2 490.7,46.4 491.4,44.6 492.1,45.2 492.7,45 493.4,46.7 494.1,46.3 494.8,45.8 495.4,46.5 496.1,48.4 496.8,49.6 497.5,50.1 498.1,49.6 498.8,50.3 499.5,50.5 500.2,50.2 500.8,49.7 501.5,48.8 502.2,50.2 502.9,50.1 503.5,51.5 504.2,52.7 504.9,52.5 505.6,52.4 506.2,52.1 506.9,53.2 507.6,53.1 508.3,53 508.9,53.7 509.6,54.5 510.3,55.9 511,57.4 511.6,58.2 512.3,58.4 513,58.2 513.7,57.8 514.3,57.3 515,57.6 515.7,59.5 516.3,59.9 517,60.1 517.7,58 518.4,58.1 519,59.3 519.7,60.8 520.4,61 521.1,60.4 521.7,59.5 522.4,59.5 523.1,60.4 523.8,61.8 524.4,63 525.1,63.5 525.8,64.7 526.5,65.5 527.1,66.8 527.8,68.6 528.5,69.3 529.2,70 529.8,69.3 530.5,70.1 531.2,69.2 531.9,68.5 532.5,68.4 533.2,68.2 533.9,68.2 534.6,69.3 535.2,70.5 535.9,71.6 536.6,71.5 537.3,71.7 537.9,71.9 538.6,73.1 539.3,73.8 539.9,75.7 540.6,75.7 541.3,76.7 542,77.4 542.6,77.7 543.3,78.6 544,79.2 544.7,80.5 545.3,79.1 546,77.9 546.7,78.4 547.4,78.6 548,79.1 548.7,77.9 549.4,78.8 550.1,78.5 550.7,79 551.4,79.9 552.1,80.6 552.8,80.6 553.4,81.2 554.1,81.5 554.8,81.1 555.5,81.8 556.1,81.4 556.8,83.1 557.5,82.7 558.2,84.6 558.8,84.3 559.5,85 560.2,86.4 560.9,87.2 561.5,85.2 562.2,84.8 562.9,84.5 563.5,85.3 564.2,85.7 564.9,85.6 565.6,85 566.2,85.7 566.9,85.6 567.6,87 568.3,86.6 568.9,87.4 569.6,87.2 570.3,87.7 571,86.3 571.6,85.3 572.3,84.6 573,84.3 573.7,85.5 574.3,86.1 575,86.7 575.7,86.7 576.4,85.5 577,86.6 577.7,87.2 578.4,87.2 579.1,89 579.7,89.6 580.4,89.9 581.1,90 581.8,90.3 582.4,89.2 583.1,89.3 583.8,89.1 584.5,90 585.1,88.9 585.8,89.3 586.5,89.8 587.1,89.9 587.8,89 588.5,88.9 589.2,89.5 589.8,90.3 590.5,90.2 591.2,90.1 591.9,90.4 592.5,90.6 593.2,91.6 593.9,91.2 594.6,91.6 595.2,91.7 595.9,91.4 596.6,90.8 597.3,91.7 597.9,92.7 598.6,93.5 599.3,94 600,94.1 600.6,94.5 601.3,92.7 602,92.6 602.7,94.1 603.3,94.4 604,93.8 604.7,92.9 605.4,93.6 606,93.9 606.7,95 607.4,95.7 608.1,95.8 608.7,94.8 609.4,93.8 610.1,93.8 610.7,94.9 611.4,94.7 612.1,95.3 612.8,95.2 613.4,95.2 614.1,96.9 614.8,96 615.5,96.1 616.1,97.1 616.8,97.7 617.5,98.2 618.2,96.7 618.8,98 619.5,97.1 620.2,95.3 620.9,95.6 621.5,95.3 622.2,96.3 622.9,95.6 623.6,97 624.2,97.8 624.9,97.6 625.6,97.5 626.3,95.5 626.9,95.8 627.6,96.3 628.3,96.2 629,96.3 629.6,96.5 630.3,97.9 631,97.6 631.7,96.8 632.3,96.6 633,97.1 633.7,97.7 634.3,96 635,95.1 635.7,97.5 636.4,99.2 637,100.7 637.7,99.3 638.4,100.2 639.1,99.1 639.7,99.3 640.4,99.8 641.1,101.1 641.8,101.1 642.4,102 643.1,101.5 643.8,100.5 644.5,101.4 645.1,101 645.8,100.7 646.5,100.5 647.2,102.1 647.8,102.8 648.5,102.8 649.2,103.5 649.9,103.5 650.5,102.4 651.2,101.2 651.9,102.1 652.6,101.8 653.2,101.1 653.9,103.4 654.6,104.2 655.3,103.9 655.9,101.6 656.6,101.6" fill="none" stroke="#000000" stroke-width="2.0" stroke-linejoin="round" stroke-linecap="round" />
<polyline points="420.6,110.4 421.9,110 423.3,110.8 424.6,110.4 426,111 427.3,110.9 428.7,111.6 430,110.9 431.4,112.1 432.7,111.8 434.1,112 435.4,113 436.8,112.5 438.1,112.9 439.5,111.6 440.8,112.3 442.2,111.2 443.5,110.7 444.9,110.9 446.2,110.9 447.6,112.2 448.9,113.9 450.3,115.4 451.6,114.6 453,113.7 454.3,113.1 455.7,112.9 457,112.7 458.4,111.8 459.7,111.7 461.1,112.2 462.4,112.9 463.8,111.8 465.1,112.3 466.5,113.7 467.8,113 469.1,111.3 470.5,111.8 471.8,111.8 473.2,112.8 474.5,111.7 475.9,112.2 477.2,113.3 478.6,112.5 479.9,113.6 481.3,114.5 482.6,114.2 484,114.9 485.3,114.8 486.7,114.6 488,113.8 489.4,112.9 490.7,113.9 492.1,113.9 493.4,115.1 494.8,113.9 496.1,112.8 497.5,112.3 498.8,112.5 500.2,112.2 501.5,113.5 502.9,113.4 504.2,114.3 505.6,112.5 506.9,111.9 508.3,113.3 509.6,113.1 511,111.5 512.3,111.3 513.7,111.5 515,111.5 516.3,110.6 517.7,110.6 519,110.5 520.4,110.9 521.7,109.6 523.1,110.1 524.4,112.1 525.8,112.6 527.1,113.3 528.5,112.6 529.8,111.9 531.2,111.3 532.5,111.2 533.9,112.4 535.2,112.9 536.6,113 537.9,113.2 539.3,113.2 540.6,113.8 542,114.3 543.3,114.6 544.7,116.3 546,115.5 547.4,115.1 548.7,114.7 550.1,114.5 551.4,114.5 552.8,114.2 554.1,113.9 555.5,113.6 556.8,113.7 558.2,112.6 559.5,113.4 560.9,112.7 562.2,112.3 563.5,111 564.9,110.9 566.2,112 567.6,111.8 568.9,110.3 570.3,111 571.6,111.5 573,111.8 574.3,112 575.7,111.2 577,112.3 578.4,113.3 579.7,114 581.1,113.9 582.4,114 583.8,114.9 585.1,115.6 586.5,112.8 587.8,112.3 589.2,112.2 590.5,113.8 591.9,113.9 593.2,112.9 594.6,113.2 595.9,112.6 597.3,115 598.6,114.7 600,115 601.3,113.9 602.7,112.8 604,112.8 605.4,112.9 606.7,112.5 608.1,112.7 609.4,112 610.7,111.2 612.1,110.8 613.4,110.3 614.8,112.1 616.1,111.5 617.5,112.8 618.8,113.9 620.2,115.3 621.5,114.1 622.9,114 624.2,113.1 625.6,112.5 626.9,112.8 628.3,112.7 629.6,114.4 631,114.1 632.3,114.6 633.7,115.4 635,114.8 636.4,115.4 637.7,114.4 639.1,113.4 640.4,112.1 641.8,112.3 643.1,113.7 644.5,113.1 645.8,112.2 647.2,112.7 648.5,114 649.9,113.8 651.2,112.5 652.6,112.6 653.9,111.9 655.3,110.9 656.6,111.7" fill="none" stroke="#dbb9f1" stroke-width="1.7" stroke-dasharray="4.2 2.8"/>
<polyline points="420.6,113.9 421.9,114.9 423.3,113.7 424.6,114.1 426,113.5 427.3,113.1 428.7,112.4 430,112.1 431.4,112.8 432.7,113.2 434.1,113.5 435.4,114.2 436.8,114.5 438.1,114.3 439.5,115.7 440.8,116 442.2,116.1 443.5,117.1 444.9,117.9 446.2,118.8 447.6,119.5 448.9,121 450.3,121.6 451.6,123.5 453,125.3 454.3,126.9 455.7,128.3 457,129.7 458.4,131.4 459.7,132.7 461.1,135 462.4,136.9 463.8,138.5 465.1,141.6 466.5,144 467.8,145.6 469.1,146.7 470.5,146.9 471.8,147.5 473.2,147.7 474.5,147.9 475.9,148.4 477.2,149.3 478.6,150.4 479.9,152.3 481.3,153 482.6,153.9 484,154.4 485.3,155.2 486.7,156 488,156.2 489.4,156.4 490.7,157.3 492.1,157.7 493.4,158.6 494.8,158.9 496.1,159.5 497.5,160.2 498.8,160.8 500.2,161 501.5,160.2 502.9,160.4 504.2,160.5 505.6,161 506.9,161.5 508.3,161.8 509.6,161.9 511,161.6 512.3,162 513.7,162.4 515,162.8 516.3,163.1 517.7,164.1 519,163.3 520.4,161.9 521.7,159.7 523.1,157.4 524.4,157.3 525.8,158.1 527.1,158 528.5,158.8 529.8,159.9 531.2,158.8 532.5,156.6 533.9,154.6 535.2,152.5 536.6,150.9 537.9,149.9 539.3,149 540.6,147.7 542,146.6 543.3,145 544.7,144.7 546,143.2 547.4,142.7 548.7,142.1 550.1,141.3 551.4,140.6 552.8,140.2 554.1,140.2 555.5,138.6 556.8,137.6 558.2,136.2 559.5,135.9 560.9,137 562.2,136.3 563.5,136.6 564.9,135.6 566.2,135 567.6,134.7 568.9,134.6 570.3,134.3 571.6,134.2 573,133.4 574.3,133.5 575.7,133.5 577,132.5 578.4,131.8 579.7,131.2 581.1,130.4 582.4,129.9 583.8,129.6 585.1,128.3 586.5,128.3 587.8,128.6 589.2,128.6 590.5,128.4 591.9,128.4 593.2,128.2 594.6,128.4 595.9,127.9 597.3,128.1 598.6,127.1 600,126.5 601.3,125.4 602.7,125.1 604,125.6 605.4,126 606.7,125.9 608.1,125.8 609.4,125.2 610.7,124.3 612.1,124.6 613.4,124.7 614.8,124.5 616.1,124 617.5,123.9 618.8,123.7 620.2,123.6 621.5,123.2 622.9,123.2 624.2,122.6 625.6,122.7 626.9,121.7 628.3,120.9 629.6,120.8 631,121.3 632.3,121.4 633.7,121.5 635,122.2 636.4,121.1 637.7,120.8 639.1,119.8 640.4,119 641.8,118.5 643.1,118 644.5,117.9 645.8,117.5 647.2,117.8 648.5,117.3 649.9,116.8 651.2,116.1 652.6,116.1 653.9,116.2 655.3,116.4 656.6,116.3" fill="none" stroke="#b8cdea" stroke-width="1.8" stroke-dasharray="4.2 2.8"/>
<polyline points="420.6,111.2 421.9,111.2 423.3,110.6 424.6,110.7 426,111.4 427.3,111.8 428.7,111.9 430,112 431.4,111.4 432.7,111.4 434.1,110.4 435.4,109.3 436.8,108.2 438.1,108.2 439.5,107.7 440.8,106.1 442.2,106.3 443.5,103.8 444.9,102.1 446.2,100.2 447.6,97.9 448.9,96.5 450.3,95.3 451.6,93.3 453,91.1 454.3,88.6 455.7,86.5 457,84.9 458.4,83.6 459.7,82.6 461.1,81.4 462.4,80.6 463.8,78 465.1,75.7 466.5,72.5 467.8,69.9 469.1,68.7 470.5,67.3 471.8,66.1 473.2,66 474.5,64.9 475.9,62.9 477.2,60.8 478.6,58.1 479.9,55.3 481.3,54.5 482.6,53.8 484,51.8 485.3,51.6 486.7,50.6 488,49.7 489.4,49.1 490.7,48.5 492.1,47.4 493.4,46.7 494.8,48.2 496.1,50 497.5,50.7 498.8,50.8 500.2,50.8 501.5,50.2 502.9,49.8 504.2,49.9 505.6,51.1 506.9,53.3 508.3,55 509.6,55.2 511,56.5 512.3,56.7 513.7,57.2 515,57.9 516.3,59.1 517.7,60.3 519,60.9 520.4,61.1 521.7,61.4 523.1,61.8 524.4,62.6 525.8,64.6 527.1,67 528.5,69.7 529.8,69.9 531.2,69.8 532.5,69.4 533.9,69.8 535.2,70.9 536.6,71.9 537.9,72.6 539.3,74 540.6,74.7 542,76.1 543.3,77.2 544.7,77.8 546,78.6 547.4,78.7 548.7,78.1 550.1,79 551.4,79.7 552.8,80.9 554.1,82.1 555.5,83.2 556.8,83.9 558.2,83.3 559.5,82.9 560.9,83.5 562.2,83.8 563.5,84.7 564.9,85.3 566.2,85.4 567.6,86.1 568.9,87.5 570.3,88.5 571.6,88.5 573,88.1 574.3,87.8 575.7,87.5 577,87.5 578.4,88.1 579.7,88.7 581.1,88.8 582.4,88.6 583.8,89.3 585.1,89.5 586.5,89.5 587.8,90 589.2,90 590.5,91 591.9,91.2 593.2,91.5 594.6,91.9 595.9,92 597.3,91.5 598.6,92.2 600,92.6 601.3,92.2 602.7,92.3 604,92.7 605.4,93.3 606.7,94.2 608.1,95.2 609.4,95.2 610.7,94.8 612.1,94.5 613.4,94.3 614.8,94.6 616.1,95.3 617.5,95.8 618.8,96 620.2,96.8 621.5,96.5 622.9,96.2 624.2,96.6 625.6,96.8 626.9,96.7 628.3,96.9 629.6,97.7 631,97.4 632.3,98.4 633.7,99.8 635,99.9 636.4,100.7 637.7,102 639.1,101.6 640.4,101.4 641.8,101.6 643.1,101.6 644.5,101.4 645.8,102.2 647.2,102.5 648.5,102.7 649.9,102.4 651.2,103.3 652.6,103.7 653.9,104 655.3,104.3 656.6,105" fill="none" stroke="#c2c2c2" stroke-width="1.8" stroke-dasharray="4.2 2.8"/>
<path d="M420.6,203.2v3.6M454.3,203.2v3.6M488,203.2v3.6M521.7,203.2v3.6M555.5,203.2v3.6M589.2,203.2v3.6M622.9,203.2v3.6M656.6,203.2v3.6M437.5,203.2v2.2M471.2,203.2v2.2M504.9,203.2v2.2M538.6,203.2v2.2M572.3,203.2v2.2M606,203.2v2.2M639.7,203.2v2.2" stroke="#111" stroke-width="1.3" fill="none"/>
<text x="420.6" y="220.2" text-anchor="middle" font-size="14.3">400</text>
<text x="454.3" y="220.2" text-anchor="middle" font-size="14.3">450</text>
<text x="488" y="220.2" text-anchor="middle" font-size="14.3">500</text>
<text x="521.7" y="220.2" text-anchor="middle" font-size="14.3">550</text>
<text x="555.5" y="220.2" text-anchor="middle" font-size="14.3">600</text>
<text x="589.2" y="220.2" text-anchor="middle" font-size="14.3">650</text>
<text x="622.9" y="220.2" text-anchor="middle" font-size="14.3">700</text>
<text x="656.6" y="220.2" text-anchor="middle" font-size="14.3">750</text>
<path d="M420.6,185h-3.6M420.6,148.7h-3.6M420.6,112.4h-3.6M420.6,76.1h-3.6M420.6,39.8h-3.6M420.6,203.2h-2.2M420.6,166.9h-2.2M420.6,130.6h-2.2M420.6,94.2h-2.2M420.6,57.9h-2.2M420.6,21.6h-2.2" stroke="#111" stroke-width="1.3" fill="none"/>
<text x="415.1" y="190" text-anchor="end" font-size="14.3">-40</text>
<text x="415.1" y="153.7" text-anchor="end" font-size="14.3">-20</text>
<text x="415.1" y="117.4" text-anchor="end" font-size="14.3">0</text>
<text x="415.1" y="81.1" text-anchor="end" font-size="14.3">20</text>
<text x="415.1" y="44.8" text-anchor="end" font-size="14.3">40</text>
<text transform="translate(382.8,122.8) rotate(-90)" text-anchor="middle" font-size="14.7">MCD [mdeg]</text>
<text x="532.5" y="241.5" text-anchor="middle" font-size="14.7">Wavelength (nm)</text>
<text x="367.3" y="31" font-size="19.3">b</text>
<path d="M569.4,36.2H600.6" stroke="#000000" stroke-width="2"/>
<text x="604" y="40.5" font-size="14">L N-S</text>
<path d="M569.4,53.9H600.6" stroke="#3456a6" stroke-width="2"/>
<text x="604" y="58.2" font-size="14">D N-S</text>
<path d="M569.4,71.6H600.6" stroke="#b3469a" stroke-width="2"/>
<text x="604" y="75.9" font-size="14">DL N-S</text>
<path d="M566.2,150.2H600" stroke="#c2c2c2" stroke-width="1.8" stroke-dasharray="5.8 3.5"/>
<text x="604.5" y="155.5" font-size="14.5">L S-N</text>
<path d="M566.2,170H600" stroke="#b8cdea" stroke-width="1.8" stroke-dasharray="5.8 3.5"/>
<text x="604.5" y="175.3" font-size="14.5">D S-N</text>
<path d="M566.2,189.8H600" stroke="#dbb9f1" stroke-width="1.8" stroke-dasharray="5.8 3.5"/>
<text x="604.5" y="195.1" font-size="14.5">DL S-N</text>
<rect x="75" y="276.2" width="236" height="181.2" fill="none" stroke="#111" stroke-width="1.3"/>
<polyline points="75,370.7 76.2,370.7 77.4,370.7 78.5,370.7 79.7,370.6 80.9,370.6 82.1,370.6 83.3,370.6 84.4,370.6 85.6,370.5 86.8,370.5 88,370.5 89.2,370.5 90.3,370.5 91.5,370.4 92.7,370.4 93.9,370.4 95.1,370.4 96.2,370.4 97.4,370.3 98.6,370.3 99.8,370.3 101,370.3 102.1,370.2 103.3,370.2 104.5,370.2 105.7,370.2 106.9,370.1 108,370.1 109.2,370.1 110.4,370.1 111.6,370 112.8,370 113.9,370 115.1,370 116.3,369.9 117.5,369.9 118.7,369.9 119.8,369.9 121,369.8 122.2,369.8 123.4,369.8 124.6,369.8 125.7,369.7 126.9,369.7 128.1,369.7 129.3,369.7 130.5,369.6 131.6,369.6 132.8,369.6 134,369.6 135.2,369.5 136.4,369.5 137.5,369.5 138.7,369.4 139.9,369.4 141.1,369.4 142.3,369.4 143.4,369.3 144.6,369.3 145.8,369.3 147,369.2 148.2,369.2 149.3,369.2 150.5,369.2 151.7,369.1 152.9,369.1 154.1,369.1 155.2,369 156.4,369 157.6,369 158.8,368.9 160,368.9 161.1,368.9 162.3,368.8 163.5,368.8 164.7,368.8 165.9,368.7 167,368.7 168.2,368.6 169.4,368.6 170.6,368.6 171.8,368.5 172.9,368.5 174.1,368.4 175.3,368.4 176.5,368.3 177.7,368.3 178.8,368.2 180,368.2 181.2,368.1 182.4,368.1 183.6,368 184.7,368 185.9,367.9 187.1,367.9 188.3,367.8 189.5,367.8 190.6,367.8 191.8,367.7 193,367.7 194.2,367.7 195.4,367.7 196.5,367.6 197.7,367.6 198.9,367.6 200.1,367.6 201.3,367.6 202.4,367.6 203.6,367.5 204.8,367.5 206,367.5 207.2,367.5 208.3,367.5 209.5,367.5 210.7,367.5 211.9,367.5 213.1,367.4 214.2,367.4 215.4,367.4 216.6,367.4 217.8,367.4 219,367.4 220.1,367.4 221.3,367.3 222.5,367.3 223.7,367.3 224.9,367.3 226,367.3 227.2,367.3 228.4,367.3 229.6,367.2 230.8,367.2 231.9,367.2 233.1,367.2 234.3,367.2 235.5,367.2 236.7,367.1 237.8,367.1 239,367.1 240.2,367.1 241.4,367.1 242.6,367.1 243.7,367.1 244.9,367 246.1,367 247.3,367 248.5,367 249.6,367 250.8,367 252,367 253.2,367 254.4,366.9 255.5,366.9 256.7,366.9 257.9,366.9 259.1,366.9 260.3,366.9 261.4,366.8 262.6,366.8 263.8,366.8 265,366.8 266.2,366.7 267.3,366.7 268.5,366.6 269.7,366.6 270.9,366.5 272.1,366.5 273.2,366.4 274.4,366.3 275.6,366.2 276.8,366.2 278,366.1 279.1,366 280.3,365.9 281.5,365.8 282.7,365.7 283.9,365.6 285,365.5 286.2,365.4 287.4,365.3 288.6,365.2 289.8,365.1 290.9,364.9 292.1,364.8 293.3,364.6 294.5,364.5 295.7,364.3 296.8,364.2 298,364 299.2,363.8 300.4,363.6 301.6,363.4 302.7,363.2 303.9,363 305.1,362.8 306.3,362.6 307.5,362.4 308.6,362.1 309.8,361.9 311,361.7" fill="none" stroke="#3456a6" stroke-width="1.9" stroke-linejoin="round" stroke-linecap="round" />
<polyline points="75,370.4 76.2,370.4 77.4,370.4 78.5,370.4 79.7,370.4 80.9,370.3 82.1,370.3 83.3,370.3 84.4,370.3 85.6,370.3 86.8,370.3 88,370.2 89.2,370.2 90.3,370.2 91.5,370.2 92.7,370.1 93.9,370.1 95.1,370.1 96.2,370.1 97.4,370.1 98.6,370 99.8,370 101,370 102.1,370 103.3,369.9 104.5,369.9 105.7,369.9 106.9,369.9 108,369.8 109.2,369.8 110.4,369.8 111.6,369.8 112.8,369.7 113.9,369.7 115.1,369.7 116.3,369.7 117.5,369.6 118.7,369.6 119.8,369.6 121,369.5 122.2,369.5 123.4,369.5 124.6,369.5 125.7,369.4 126.9,369.4 128.1,369.4 129.3,369.3 130.5,369.3 131.6,369.3 132.8,369.2 134,369.2 135.2,369.2 136.4,369.1 137.5,369.1 138.7,369.1 139.9,369 141.1,369 142.3,369 143.4,368.9 144.6,368.9 145.8,368.9 147,368.8 148.2,368.8 149.3,368.7 150.5,368.7 151.7,368.7 152.9,368.6 154.1,368.6 155.2,368.5 156.4,368.5 157.6,368.5 158.8,368.4 160,368.4 161.1,368.3 162.3,368.3 163.5,368.2 164.7,368.2 165.9,368.1 167,368.1 168.2,368.1 169.4,368 170.6,368 171.8,367.9 172.9,367.9 174.1,367.8 175.3,367.7 176.5,367.7 177.7,367.6 178.8,367.6 180,367.5 181.2,367.4 182.4,367.4 183.6,367.3 184.7,367.2 185.9,367.2 187.1,367.1 188.3,367 189.5,367 190.6,366.9 191.8,366.9 193,366.8 194.2,366.7 195.4,366.7 196.5,366.6 197.7,366.6 198.9,366.5 200.1,366.5 201.3,366.4 202.4,366.4 203.6,366.3 204.8,366.3 206,366.2 207.2,366.2 208.3,366.1 209.5,366 210.7,366 211.9,365.9 213.1,365.8 214.2,365.8 215.4,365.7 216.6,365.6 217.8,365.5 219,365.4 220.1,365.3 221.3,365.1 222.5,365 223.7,364.9 224.9,364.7 226,364.6 227.2,364.4 228.4,364.2 229.6,364 230.8,363.9 231.9,363.7 233.1,363.5 234.3,363.3 235.5,363.1 236.7,362.9 237.8,362.7 239,362.5 240.2,362.3 241.4,362.1 242.6,361.9 243.7,361.6 244.9,361.4 246.1,361.2 247.3,361 248.5,360.7 249.6,360.5 250.8,360.2 252,360 253.2,359.7 254.4,359.4 255.5,359.2 256.7,358.9 257.9,358.6 259.1,358.3 260.3,358 261.4,357.7 262.6,357.4 263.8,357.1 265,356.8 266.2,356.5 267.3,356.2 268.5,355.9 269.7,355.5 270.9,355.2 272.1,354.8 273.2,354.5 274.4,354.1 275.6,353.7 276.8,353.4 278,353 279.1,352.6 280.3,352.2 281.5,351.8 282.7,351.3 283.9,350.9 285,350.5 286.2,350 287.4,349.6 288.6,349.1 289.8,348.6 290.9,348.2 292.1,347.7 293.3,347.1 294.5,346.6 295.7,346.1 296.8,345.5 298,345 299.2,344.4 300.4,343.8 301.6,343.2 302.7,342.6 303.9,342 305.1,341.4 306.3,340.7 307.5,340.1 308.6,339.4 309.8,338.8 311,338.1" fill="none" stroke="#000000" stroke-width="1.9" stroke-linejoin="round" stroke-linecap="round" />
<polyline points="75,397.3 76.2,396.7 77.4,396.1 78.5,395.5 79.7,394.9 80.9,394.3 82.1,393.7 83.3,393.2 84.4,392.6 85.6,392.1 86.8,391.5 88,391 89.2,390.5 90.3,390 91.5,389.5 92.7,389 93.9,388.5 95.1,388 96.2,387.6 97.4,387.2 98.6,386.7 99.8,386.3 101,385.9 102.1,385.5 103.3,385.1 104.5,384.7 105.7,384.3 106.9,383.9 108,383.5 109.2,383.2 110.4,382.8 111.6,382.5 112.8,382.1 113.9,381.8 115.1,381.5 116.3,381.1 117.5,380.8 118.7,380.6 119.8,380.3 121,380 122.2,379.8 123.4,379.6 124.6,379.3 125.7,379.1 126.9,378.9 128.1,378.7 129.3,378.5 130.5,378.4 131.6,378.2 132.8,378 134,377.9 135.2,377.7 136.4,377.5 137.5,377.4 138.7,377.2 139.9,377.1 141.1,376.9 142.3,376.7 143.4,376.5 144.6,376.4 145.8,376.2 147,376 148.2,375.8 149.3,375.6 150.5,375.4 151.7,375.2 152.9,375 154.1,374.8 155.2,374.5 156.4,374.3 157.6,374.1 158.8,373.9 160,373.7 161.1,373.5 162.3,373.3 163.5,373 164.7,372.8 165.9,372.6 167,372.4 168.2,372.2 169.4,371.9 170.6,371.7 171.8,371.5 172.9,371.2 174.1,371 175.3,370.8 176.5,370.5 177.7,370.3 178.8,370 180,369.8 181.2,369.6 182.4,369.3 183.6,369.1 184.7,368.8 185.9,368.6 187.1,368.3 188.3,368.1 189.5,367.8 190.6,367.6 191.8,367.3 193,367.1 194.2,366.9 195.4,366.6 196.5,366.4 197.7,366.2 198.9,365.9 200.1,365.7 201.3,365.5 202.4,365.2 203.6,365 204.8,364.8 206,364.5 207.2,364.3 208.3,364.1 209.5,363.8 210.7,363.6 211.9,363.3 213.1,363.1 214.2,362.8 215.4,362.5 216.6,362.3 217.8,362 219,361.7 220.1,361.4 221.3,361.1 222.5,360.8 223.7,360.5 224.9,360.2 226,359.9 227.2,359.6 228.4,359.3 229.6,359 230.8,358.7 231.9,358.3 233.1,358 234.3,357.6 235.5,357.2 236.7,356.8 237.8,356.4 239,356 240.2,355.6 241.4,355.2 242.6,354.7 243.7,354.3 244.9,353.8 246.1,353.3 247.3,352.7 248.5,352.2 249.6,351.7 250.8,351.1 252,350.5 253.2,349.9 254.4,349.3 255.5,348.6 256.7,348 257.9,347.3 259.1,346.7 260.3,346 261.4,345.3 262.6,344.6 263.8,343.8 265,343.1 266.2,342.3 267.3,341.5 268.5,340.7 269.7,339.9 270.9,339 272.1,338.1 273.2,337.2 274.4,336.2 275.6,335.3 276.8,334.3 278,333.3 279.1,332.3 280.3,331.3 281.5,330.2 282.7,329.2 283.9,328.1 285,327 286.2,325.9 287.4,324.8 288.6,323.7 289.8,322.6 290.9,321.4 292.1,320.2 293.3,319 294.5,317.7 295.7,316.5 296.8,315.2 298,313.9 299.2,312.6 300.4,311.2 301.6,309.8 302.7,308.5 303.9,307.1 305.1,305.6 306.3,304.2 307.5,302.7 308.6,301.2 309.8,299.8 311,298.2" fill="none" stroke="#b3469a" stroke-width="1.9" stroke-linejoin="round" stroke-linecap="round" />
<path d="M98.6,457.4v3.6M145.8,457.4v3.6M193,457.4v3.6M240.2,457.4v3.6M287.4,457.4v3.6M75,457.4v2.2M122.2,457.4v2.2M169.4,457.4v2.2M216.6,457.4v2.2M263.8,457.4v2.2M311,457.4v2.2" stroke="#111" stroke-width="1.3" fill="none"/>
<text x="98.6" y="474.9" text-anchor="middle" font-size="14.3">-4</text>
<text x="145.8" y="474.9" text-anchor="middle" font-size="14.3">-2</text>
<text x="193" y="474.9" text-anchor="middle" font-size="14.3">0</text>
<text x="240.2" y="474.9" text-anchor="middle" font-size="14.3">2</text>
<text x="287.4" y="474.9" text-anchor="middle" font-size="14.3">4</text>
<path d="M75,457.4h-3.6M75,427.2h-3.6M75,397h-3.6M75,366.8h-3.6M75,336.6h-3.6M75,306.4h-3.6M75,276.2h-3.6M75,442.3h-2.2M75,412.1h-2.2M75,381.9h-2.2M75,351.7h-2.2M75,321.5h-2.2M75,291.3h-2.2" stroke="#111" stroke-width="1.3" fill="none"/>
<text x="69.5" y="462.4" text-anchor="end" font-size="14.3">-3</text>
<text x="69.5" y="432.2" text-anchor="end" font-size="14.3">-2</text>
<text x="69.5" y="402" text-anchor="end" font-size="14.3">-1</text>
<text x="69.5" y="371.8" text-anchor="end" font-size="14.3">0</text>
<text x="69.5" y="341.6" text-anchor="end" font-size="14.3">1</text>
<text x="69.5" y="311.4" text-anchor="end" font-size="14.3">2</text>
<text x="69.5" y="281.2" text-anchor="end" font-size="14.3">3</text>
<text transform="translate(51.5,363.5) rotate(-90)" text-anchor="middle" font-size="14.7">Current (nA)</text>
<text x="190" y="488.2" text-anchor="middle" font-size="14.7">Bias (V)</text>
<text x="29" y="283.6" font-size="19.3">c</text>
<path d="M84.5,291.3H108" stroke="#000000" stroke-width="2"/>
<text x="109.6" y="295.2" font-size="14.6">L-Tip<tspan font-size="9.2" dy="4.4">0</tspan></text>
<path d="M84.5,314.2H108" stroke="#3456a6" stroke-width="2"/>
<text x="111.8" y="318.1" font-size="14.6">L-Tip<tspan font-size="9.2" dy="4.4">up</tspan></text>
<path d="M84.5,336.8H108" stroke="#b3469a" stroke-width="2"/>
<text x="111.8" y="340.7" font-size="14.6">L-Tip<tspan font-size="9.2" dy="4.4">down</tspan></text>
<rect x="424.2" y="278" width="235.4" height="181" fill="none" stroke="#111" stroke-width="1.3"/>
<polyline points="424.2,371.5 425.4,371.5 426.6,371.5 427.7,371.4 428.9,371.4 430.1,371.4 431.3,371.4 432.4,371.4 433.6,371.3 434.8,371.3 436,371.3 437.1,371.3 438.3,371.2 439.5,371.2 440.7,371.2 441.9,371.2 443,371.2 444.2,371.1 445.4,371.1 446.6,371.1 447.7,371.1 448.9,371 450.1,371 451.3,371 452.4,371 453.6,371 454.8,370.9 456,370.9 457.2,370.9 458.3,370.9 459.5,370.8 460.7,370.8 461.9,370.8 463,370.8 464.2,370.7 465.4,370.7 466.6,370.7 467.7,370.7 468.9,370.7 470.1,370.6 471.3,370.6 472.5,370.6 473.6,370.6 474.8,370.5 476,370.5 477.2,370.5 478.3,370.5 479.5,370.5 480.7,370.4 481.9,370.4 483.1,370.4 484.2,370.4 485.4,370.3 486.6,370.3 487.8,370.3 488.9,370.3 490.1,370.3 491.3,370.2 492.5,370.2 493.6,370.2 494.8,370.2 496,370.2 497.2,370.1 498.4,370.1 499.5,370.1 500.7,370.1 501.9,370 503.1,370 504.2,370 505.4,370 506.6,370 507.8,369.9 508.9,369.9 510.1,369.9 511.3,369.9 512.5,369.8 513.7,369.8 514.8,369.8 516,369.8 517.2,369.7 518.4,369.7 519.5,369.7 520.7,369.7 521.9,369.6 523.1,369.6 524.2,369.6 525.4,369.5 526.6,369.5 527.8,369.5 529,369.4 530.1,369.4 531.3,369.4 532.5,369.4 533.7,369.3 534.8,369.3 536,369.3 537.2,369.2 538.4,369.2 539.5,369.2 540.7,369.1 541.9,369.1 543.1,369.1 544.3,369 545.4,369 546.6,369 547.8,369 549,368.9 550.1,368.9 551.3,368.9 552.5,368.9 553.7,368.8 554.8,368.8 556,368.8 557.2,368.8 558.4,368.7 559.6,368.7 560.7,368.7 561.9,368.6 563.1,368.6 564.3,368.5 565.4,368.5 566.6,368.4 567.8,368.4 569,368.3 570.1,368.2 571.3,368.1 572.5,368 573.7,367.9 574.9,367.8 576,367.7 577.2,367.6 578.4,367.5 579.6,367.3 580.7,367.2 581.9,367 583.1,366.9 584.3,366.7 585.4,366.6 586.6,366.4 587.8,366.3 589,366.1 590.2,365.9 591.3,365.7 592.5,365.5 593.7,365.3 594.9,365.1 596,364.8 597.2,364.6 598.4,364.3 599.6,364 600.8,363.7 601.9,363.4 603.1,363.1 604.3,362.8 605.5,362.5 606.6,362.2 607.8,361.9 609,361.6 610.2,361.3 611.3,361 612.5,360.7 613.7,360.3 614.9,360 616.1,359.7 617.2,359.4 618.4,359.1 619.6,358.7 620.8,358.4 621.9,358 623.1,357.7 624.3,357.3 625.5,357 626.6,356.6 627.8,356.2 629,355.9 630.2,355.5 631.4,355.1 632.5,354.7 633.7,354.3 634.9,353.8 636.1,353.4 637.2,353 638.4,352.5 639.6,352.1 640.8,351.6 641.9,351.1 643.1,350.6 644.3,350.1 645.5,349.6 646.7,349.1 647.8,348.6 649,348.1 650.2,347.5 651.4,347 652.5,346.4 653.7,345.8 654.9,345.2 656.1,344.7 657.2,344.1 658.4,343.5 659.6,342.9" fill="none" stroke="#000000" stroke-width="1.9" stroke-linejoin="round" stroke-linecap="round" />
<polyline points="424.2,378.5 425.4,378.2 426.6,377.9 427.7,377.7 428.9,377.4 430.1,377.2 431.3,376.9 432.4,376.7 433.6,376.5 434.8,376.3 436,376 437.1,375.8 438.3,375.6 439.5,375.4 440.7,375.2 441.9,375 443,374.9 444.2,374.7 445.4,374.5 446.6,374.4 447.7,374.2 448.9,374.1 450.1,374 451.3,373.8 452.4,373.7 453.6,373.6 454.8,373.5 456,373.3 457.2,373.2 458.3,373.1 459.5,373 460.7,372.9 461.9,372.8 463,372.7 464.2,372.6 465.4,372.5 466.6,372.4 467.7,372.4 468.9,372.3 470.1,372.2 471.3,372.1 472.5,372 473.6,372 474.8,371.9 476,371.8 477.2,371.8 478.3,371.7 479.5,371.6 480.7,371.6 481.9,371.5 483.1,371.5 484.2,371.4 485.4,371.3 486.6,371.3 487.8,371.2 488.9,371.2 490.1,371.1 491.3,371.1 492.5,371 493.6,371 494.8,370.9 496,370.9 497.2,370.8 498.4,370.8 499.5,370.7 500.7,370.7 501.9,370.6 503.1,370.6 504.2,370.5 505.4,370.5 506.6,370.4 507.8,370.4 508.9,370.3 510.1,370.3 511.3,370.2 512.5,370.2 513.7,370.2 514.8,370.1 516,370.1 517.2,370 518.4,370 519.5,370 520.7,369.9 521.9,369.9 523.1,369.9 524.2,369.8 525.4,369.8 526.6,369.8 527.8,369.7 529,369.7 530.1,369.7 531.3,369.7 532.5,369.6 533.7,369.6 534.8,369.6 536,369.6 537.2,369.5 538.4,369.5 539.5,369.5 540.7,369.4 541.9,369.4 543.1,369.4 544.3,369.3 545.4,369.3 546.6,369.3 547.8,369.3 549,369.3 550.1,369.2 551.3,369.2 552.5,369.2 553.7,369.2 554.8,369.1 556,369.1 557.2,369.1 558.4,369 559.6,369 560.7,369 561.9,368.9 563.1,368.9 564.3,368.9 565.4,368.8 566.6,368.7 567.8,368.7 569,368.6 570.1,368.5 571.3,368.4 572.5,368.3 573.7,368.1 574.9,368 576,367.8 577.2,367.6 578.4,367.5 579.6,367.3 580.7,367.1 581.9,366.9 583.1,366.7 584.3,366.4 585.4,366.2 586.6,366 587.8,365.7 589,365.5 590.2,365.2 591.3,364.9 592.5,364.6 593.7,364.2 594.9,363.8 596,363.3 597.2,362.9 598.4,362.4 599.6,361.8 600.8,361.3 601.9,360.7 603.1,360.1 604.3,359.5 605.5,358.9 606.6,358.3 607.8,357.6 609,357 610.2,356.3 611.3,355.6 612.5,354.9 613.7,354.2 614.9,353.4 616.1,352.5 617.2,351.6 618.4,350.6 619.6,349.7 620.8,348.6 621.9,347.6 623.1,346.6 624.3,345.6 625.5,344.7 626.6,343.8 627.8,342.9 629,342.1 630.2,341.3 631.4,340.5 632.5,339.6 633.7,338.8 634.9,337.8 636.1,336.8 637.2,335.7 638.4,334.3 639.6,332.9 640.8,331.3 641.9,329.8 643.1,328.3 644.3,326.9 645.5,325.7 646.7,324.6 647.8,323.7 649,322.8 650.2,321.8 651.4,320.8 652.5,319.6 653.7,318.2 654.9,316.5 656.1,314.7 657.2,312.7 658.4,310.5 659.6,308.2" fill="none" stroke="#3456a6" stroke-width="1.9" stroke-linejoin="round" stroke-linecap="round" />
<polyline points="424.2,370.9 425.4,370.9 426.6,370.9 427.7,370.9 428.9,370.9 430.1,370.8 431.3,370.8 432.4,370.8 433.6,370.8 434.8,370.8 436,370.8 437.1,370.7 438.3,370.7 439.5,370.7 440.7,370.7 441.9,370.7 443,370.7 444.2,370.7 445.4,370.6 446.6,370.6 447.7,370.6 448.9,370.6 450.1,370.6 451.3,370.6 452.4,370.6 453.6,370.5 454.8,370.5 456,370.5 457.2,370.5 458.3,370.5 459.5,370.5 460.7,370.4 461.9,370.4 463,370.4 464.2,370.4 465.4,370.4 466.6,370.4 467.7,370.4 468.9,370.3 470.1,370.3 471.3,370.3 472.5,370.3 473.6,370.3 474.8,370.3 476,370.2 477.2,370.2 478.3,370.2 479.5,370.2 480.7,370.2 481.9,370.2 483.1,370.2 484.2,370.1 485.4,370.1 486.6,370.1 487.8,370.1 488.9,370.1 490.1,370.1 491.3,370.1 492.5,370 493.6,370 494.8,370 496,370 497.2,370 498.4,370 499.5,369.9 500.7,369.9 501.9,369.9 503.1,369.9 504.2,369.9 505.4,369.9 506.6,369.9 507.8,369.8 508.9,369.8 510.1,369.8 511.3,369.8 512.5,369.8 513.7,369.8 514.8,369.8 516,369.7 517.2,369.7 518.4,369.7 519.5,369.7 520.7,369.7 521.9,369.7 523.1,369.6 524.2,369.6 525.4,369.6 526.6,369.6 527.8,369.6 529,369.6 530.1,369.6 531.3,369.6 532.5,369.5 533.7,369.5 534.8,369.5 536,369.5 537.2,369.5 538.4,369.5 539.5,369.4 540.7,369.4 541.9,369.4 543.1,369.4 544.3,369.4 545.4,369.3 546.6,369.3 547.8,369.3 549,369.3 550.1,369.2 551.3,369.2 552.5,369.2 553.7,369.1 554.8,369.1 556,369.1 557.2,369 558.4,369 559.6,369 560.7,368.9 561.9,368.9 563.1,368.9 564.3,368.8 565.4,368.8 566.6,368.8 567.8,368.7 569,368.7 570.1,368.7 571.3,368.6 572.5,368.6 573.7,368.5 574.9,368.5 576,368.4 577.2,368.4 578.4,368.4 579.6,368.3 580.7,368.3 581.9,368.2 583.1,368.2 584.3,368.1 585.4,368.1 586.6,368 587.8,368 589,367.9 590.2,367.8 591.3,367.8 592.5,367.7 593.7,367.7 594.9,367.6 596,367.5 597.2,367.5 598.4,367.4 599.6,367.3 600.8,367.2 601.9,367.2 603.1,367.1 604.3,367 605.5,366.9 606.6,366.8 607.8,366.8 609,366.7 610.2,366.6 611.3,366.5 612.5,366.4 613.7,366.3 614.9,366.2 616.1,366.1 617.2,366 618.4,365.9 619.6,365.7 620.8,365.6 621.9,365.5 623.1,365.4 624.3,365.2 625.5,365.1 626.6,365 627.8,364.8 629,364.7 630.2,364.5 631.4,364.3 632.5,364.2 633.7,364 634.9,363.8 636.1,363.7 637.2,363.5 638.4,363.3 639.6,363.1 640.8,362.9 641.9,362.7 643.1,362.4 644.3,362.2 645.5,362 646.7,361.7 647.8,361.5 649,361.2 650.2,360.9 651.4,360.6 652.5,360.4 653.7,360.1 654.9,359.8 656.1,359.5 657.2,359.2 658.4,358.9 659.6,358.5" fill="none" stroke="#b3469a" stroke-width="1.9" stroke-linejoin="round" stroke-linecap="round" />
<path d="M447.7,459v3.6M494.8,459v3.6M541.9,459v3.6M589,459v3.6M636.1,459v3.6M424.2,459v2.2M471.3,459v2.2M518.4,459v2.2M565.4,459v2.2M612.5,459v2.2M659.6,459v2.2" stroke="#111" stroke-width="1.3" fill="none"/>
<text x="447.7" y="476.5" text-anchor="middle" font-size="14.3">-4</text>
<text x="494.8" y="476.5" text-anchor="middle" font-size="14.3">-2</text>
<text x="541.9" y="476.5" text-anchor="middle" font-size="14.3">0</text>
<text x="589" y="476.5" text-anchor="middle" font-size="14.3">2</text>
<text x="636.1" y="476.5" text-anchor="middle" font-size="14.3">4</text>
<path d="M424.2,459h-3.6M424.2,428.8h-3.6M424.2,398.7h-3.6M424.2,368.5h-3.6M424.2,338.3h-3.6M424.2,308.2h-3.6M424.2,278h-3.6M424.2,443.9h-2.2M424.2,413.8h-2.2M424.2,383.6h-2.2M424.2,353.4h-2.2M424.2,323.2h-2.2M424.2,293.1h-2.2" stroke="#111" stroke-width="1.3" fill="none"/>
<text x="418.7" y="464" text-anchor="end" font-size="14.3">-3</text>
<text x="418.7" y="433.8" text-anchor="end" font-size="14.3">-2</text>
<text x="418.7" y="403.7" text-anchor="end" font-size="14.3">-1</text>
<text x="418.7" y="373.5" text-anchor="end" font-size="14.3">0</text>
<text x="418.7" y="343.3" text-anchor="end" font-size="14.3">1</text>
<text x="418.7" y="313.2" text-anchor="end" font-size="14.3">2</text>
<text x="418.7" y="283" text-anchor="end" font-size="14.3">3</text>
<text transform="translate(398.3,363.4) rotate(-90)" text-anchor="middle" font-size="14.7">Current (nA)</text>
<text x="542" y="493" text-anchor="middle" font-size="14.7">Bias (V)</text>
<text x="367.6" y="284.6" font-size="19.3">d</text>
<path d="M430,289.2H464.9" stroke="#000000" stroke-width="2"/>
<text x="468.6" y="294.1" font-size="14.8">D-Tip<tspan font-size="8.7" dy="4.4">0</tspan></text>
<path d="M430,312.4H464.9" stroke="#3456a6" stroke-width="2"/>
<text x="468.6" y="317.3" font-size="14.8">D-Tip<tspan font-size="8.7" dy="4.4">up</tspan></text>
<path d="M430,336.2H464.9" stroke="#b3469a" stroke-width="2"/>
<text x="468.6" y="341.1" font-size="14.8">D-Tip<tspan font-size="8.7" dy="4.4">down</tspan></text>
<rect x="75" y="506" width="236" height="181.4" fill="none" stroke="#111" stroke-width="1.3"/>
<polyline points="75,598.8 76.2,598.8 77.4,598.8 78.5,598.8 79.7,598.8 80.9,598.8 82.1,598.7 83.3,598.7 84.4,598.7 85.6,598.7 86.8,598.7 88,598.7 89.2,598.7 90.3,598.7 91.5,598.6 92.7,598.6 93.9,598.6 95.1,598.6 96.2,598.6 97.4,598.6 98.6,598.5 99.8,598.5 101,598.5 102.1,598.5 103.3,598.5 104.5,598.5 105.7,598.5 106.9,598.4 108,598.4 109.2,598.4 110.4,598.4 111.6,598.4 112.8,598.4 113.9,598.3 115.1,598.3 116.3,598.3 117.5,598.3 118.7,598.3 119.8,598.2 121,598.2 122.2,598.2 123.4,598.2 124.6,598.2 125.7,598.2 126.9,598.1 128.1,598.1 129.3,598.1 130.5,598.1 131.6,598.1 132.8,598 134,598 135.2,598 136.4,598 137.5,598 138.7,597.9 139.9,597.9 141.1,597.9 142.3,597.9 143.4,597.8 144.6,597.8 145.8,597.8 147,597.8 148.2,597.8 149.3,597.7 150.5,597.7 151.7,597.7 152.9,597.7 154.1,597.6 155.2,597.6 156.4,597.6 157.6,597.6 158.8,597.5 160,597.5 161.1,597.5 162.3,597.5 163.5,597.4 164.7,597.4 165.9,597.4 167,597.4 168.2,597.3 169.4,597.3 170.6,597.3 171.8,597.3 172.9,597.2 174.1,597.2 175.3,597.2 176.5,597.1 177.7,597.1 178.8,597.1 180,597 181.2,597 182.4,597 183.6,596.9 184.7,596.9 185.9,596.9 187.1,596.9 188.3,596.8 189.5,596.8 190.6,596.8 191.8,596.7 193,596.7 194.2,596.7 195.4,596.6 196.5,596.6 197.7,596.6 198.9,596.6 200.1,596.5 201.3,596.5 202.4,596.5 203.6,596.4 204.8,596.4 206,596.4 207.2,596.4 208.3,596.3 209.5,596.3 210.7,596.3 211.9,596.2 213.1,596.2 214.2,596.2 215.4,596.1 216.6,596.1 217.8,596.1 219,596 220.1,596 221.3,595.9 222.5,595.9 223.7,595.9 224.9,595.8 226,595.8 227.2,595.7 228.4,595.7 229.6,595.6 230.8,595.6 231.9,595.5 233.1,595.5 234.3,595.4 235.5,595.4 236.7,595.3 237.8,595.3 239,595.2 240.2,595.2 241.4,595.1 242.6,595.1 243.7,595 244.9,595 246.1,594.9 247.3,594.9 248.5,594.8 249.6,594.7 250.8,594.7 252,594.6 253.2,594.6 254.4,594.5 255.5,594.4 256.7,594.4 257.9,594.3 259.1,594.2 260.3,594.2 261.4,594.1 262.6,594 263.8,594 265,593.9 266.2,593.8 267.3,593.8 268.5,593.7 269.7,593.6 270.9,593.6 272.1,593.5 273.2,593.4 274.4,593.4 275.6,593.3 276.8,593.2 278,593.1 279.1,593.1 280.3,593 281.5,592.9 282.7,592.8 283.9,592.7 285,592.6 286.2,592.6 287.4,592.5 288.6,592.4 289.8,592.3 290.9,592.2 292.1,592.1 293.3,592 294.5,591.9 295.7,591.7 296.8,591.6 298,591.5 299.2,591.4 300.4,591.3 301.6,591.1 302.7,591 303.9,590.9 305.1,590.7 306.3,590.6 307.5,590.5 308.6,590.3 309.8,590.2 311,590" fill="none" stroke="#000000" stroke-width="1.7" stroke-linejoin="round" stroke-linecap="round" />
<polyline points="75,599.1 76.2,599.1 77.4,599.1 78.5,599.1 79.7,599.1 80.9,599.1 82.1,599 83.3,599 84.4,599 85.6,599 86.8,599 88,599 89.2,599 90.3,599 91.5,598.9 92.7,598.9 93.9,598.9 95.1,598.9 96.2,598.9 97.4,598.9 98.6,598.9 99.8,598.8 101,598.8 102.1,598.8 103.3,598.8 104.5,598.8 105.7,598.8 106.9,598.7 108,598.7 109.2,598.7 110.4,598.7 111.6,598.7 112.8,598.7 113.9,598.6 115.1,598.6 116.3,598.6 117.5,598.6 118.7,598.6 119.8,598.6 121,598.5 122.2,598.5 123.4,598.5 124.6,598.5 125.7,598.5 126.9,598.4 128.1,598.4 129.3,598.4 130.5,598.4 131.6,598.4 132.8,598.3 134,598.3 135.2,598.3 136.4,598.3 137.5,598.3 138.7,598.2 139.9,598.2 141.1,598.2 142.3,598.2 143.4,598.1 144.6,598.1 145.8,598.1 147,598.1 148.2,598.1 149.3,598 150.5,598 151.7,598 152.9,598 154.1,597.9 155.2,597.9 156.4,597.9 157.6,597.9 158.8,597.8 160,597.8 161.1,597.8 162.3,597.8 163.5,597.7 164.7,597.7 165.9,597.7 167,597.7 168.2,597.6 169.4,597.6 170.6,597.6 171.8,597.6 172.9,597.5 174.1,597.5 175.3,597.5 176.5,597.4 177.7,597.4 178.8,597.4 180,597.3 181.2,597.3 182.4,597.3 183.6,597.3 184.7,597.2 185.9,597.2 187.1,597.2 188.3,597.1 189.5,597.1 190.6,597.1 191.8,597 193,597 194.2,597 195.4,596.9 196.5,596.9 197.7,596.9 198.9,596.9 200.1,596.8 201.3,596.8 202.4,596.8 203.6,596.7 204.8,596.7 206,596.7 207.2,596.7 208.3,596.6 209.5,596.6 210.7,596.6 211.9,596.5 213.1,596.5 214.2,596.5 215.4,596.4 216.6,596.4 217.8,596.4 219,596.3 220.1,596.3 221.3,596.2 222.5,596.2 223.7,596.2 224.9,596.1 226,596.1 227.2,596 228.4,596 229.6,595.9 230.8,595.9 231.9,595.8 233.1,595.8 234.3,595.7 235.5,595.7 236.7,595.6 237.8,595.6 239,595.5 240.2,595.5 241.4,595.4 242.6,595.4 243.7,595.3 244.9,595.3 246.1,595.2 247.3,595.2 248.5,595.1 249.6,595 250.8,595 252,594.9 253.2,594.9 254.4,594.8 255.5,594.7 256.7,594.7 257.9,594.6 259.1,594.5 260.3,594.5 261.4,594.4 262.6,594.3 263.8,594.3 265,594.2 266.2,594.1 267.3,594.1 268.5,594 269.7,594 270.9,593.9 272.1,593.8 273.2,593.7 274.4,593.7 275.6,593.6 276.8,593.5 278,593.5 279.1,593.4 280.3,593.3 281.5,593.2 282.7,593.1 283.9,593.1 285,593 286.2,592.9 287.4,592.8 288.6,592.7 289.8,592.6 290.9,592.4 292.1,592.3 293.3,592.2 294.5,592.1 295.7,591.9 296.8,591.8 298,591.6 299.2,591.5 300.4,591.3 301.6,591.2 302.7,591 303.9,590.8 305.1,590.7 306.3,590.5 307.5,590.3 308.6,590.1 309.8,589.9 311,589.7" fill="none" stroke="#3456a6" stroke-width="1.2" stroke-linejoin="round" stroke-linecap="round" />
<polyline points="75,600 76.2,600 77.4,600 78.5,600 79.7,599.9 80.9,599.9 82.1,599.9 83.3,599.9 84.4,599.9 85.6,599.8 86.8,599.8 88,599.8 89.2,599.8 90.3,599.8 91.5,599.7 92.7,599.7 93.9,599.7 95.1,599.7 96.2,599.7 97.4,599.6 98.6,599.6 99.8,599.6 101,599.6 102.1,599.5 103.3,599.5 104.5,599.5 105.7,599.5 106.9,599.4 108,599.4 109.2,599.4 110.4,599.4 111.6,599.3 112.8,599.3 113.9,599.3 115.1,599.3 116.3,599.2 117.5,599.2 118.7,599.2 119.8,599.2 121,599.1 122.2,599.1 123.4,599.1 124.6,599.1 125.7,599 126.9,599 128.1,599 129.3,599 130.5,598.9 131.6,598.9 132.8,598.9 134,598.9 135.2,598.8 136.4,598.8 137.5,598.8 138.7,598.7 139.9,598.7 141.1,598.7 142.3,598.7 143.4,598.6 144.6,598.6 145.8,598.6 147,598.5 148.2,598.5 149.3,598.5 150.5,598.4 151.7,598.4 152.9,598.4 154.1,598.4 155.2,598.3 156.4,598.3 157.6,598.3 158.8,598.2 160,598.2 161.1,598.2 162.3,598.1 163.5,598.1 164.7,598.1 165.9,598 167,598 168.2,597.9 169.4,597.9 170.6,597.9 171.8,597.8 172.9,597.8 174.1,597.7 175.3,597.7 176.5,597.7 177.7,597.6 178.8,597.6 180,597.5 181.2,597.5 182.4,597.4 183.6,597.4 184.7,597.3 185.9,597.3 187.1,597.2 188.3,597.2 189.5,597.1 190.6,597.1 191.8,597 193,597 194.2,597 195.4,596.9 196.5,596.9 197.7,596.8 198.9,596.8 200.1,596.7 201.3,596.7 202.4,596.7 203.6,596.6 204.8,596.6 206,596.5 207.2,596.5 208.3,596.4 209.5,596.4 210.7,596.3 211.9,596.3 213.1,596.2 214.2,596.2 215.4,596.1 216.6,596.1 217.8,596 219,596 220.1,595.9 221.3,595.9 222.5,595.8 223.7,595.8 224.9,595.7 226,595.7 227.2,595.6 228.4,595.5 229.6,595.5 230.8,595.4 231.9,595.4 233.1,595.3 234.3,595.2 235.5,595.2 236.7,595.1 237.8,595 239,595 240.2,594.9 241.4,594.8 242.6,594.7 243.7,594.7 244.9,594.6 246.1,594.5 247.3,594.4 248.5,594.3 249.6,594.3 250.8,594.2 252,594.1 253.2,594 254.4,593.9 255.5,593.8 256.7,593.7 257.9,593.6 259.1,593.5 260.3,593.4 261.4,593.3 262.6,593.2 263.8,593.1 265,593 266.2,592.8 267.3,592.7 268.5,592.6 269.7,592.5 270.9,592.3 272.1,592.2 273.2,592 274.4,591.9 275.6,591.7 276.8,591.6 278,591.4 279.1,591.3 280.3,591.1 281.5,590.9 282.7,590.8 283.9,590.6 285,590.4 286.2,590.2 287.4,590 288.6,589.9 289.8,589.7 290.9,589.5 292.1,589.3 293.3,589.1 294.5,588.9 295.7,588.7 296.8,588.4 298,588.2 299.2,588 300.4,587.8 301.6,587.5 302.7,587.3 303.9,587 305.1,586.8 306.3,586.5 307.5,586.3 308.6,586 309.8,585.8 311,585.5" fill="none" stroke="#b3469a" stroke-width="1.9" stroke-linejoin="round" stroke-linecap="round" />
<path d="M98.6,687.4v3.6M145.8,687.4v3.6M193,687.4v3.6M240.2,687.4v3.6M287.4,687.4v3.6M75,687.4v2.2M122.2,687.4v2.2M169.4,687.4v2.2M216.6,687.4v2.2M263.8,687.4v2.2M311,687.4v2.2" stroke="#111" stroke-width="1.3" fill="none"/>
<text x="98.6" y="704.9" text-anchor="middle" font-size="14.3">-4</text>
<text x="145.8" y="704.9" text-anchor="middle" font-size="14.3">-2</text>
<text x="193" y="704.9" text-anchor="middle" font-size="14.3">0</text>
<text x="240.2" y="704.9" text-anchor="middle" font-size="14.3">2</text>
<text x="287.4" y="704.9" text-anchor="middle" font-size="14.3">4</text>
<path d="M75,687.4h-3.6M75,657.2h-3.6M75,626.9h-3.6M75,596.7h-3.6M75,566.5h-3.6M75,536.2h-3.6M75,506h-3.6M75,672.3h-2.2M75,642h-2.2M75,611.8h-2.2M75,581.6h-2.2M75,551.4h-2.2M75,521.1h-2.2" stroke="#111" stroke-width="1.3" fill="none"/>
<text x="69.5" y="692.4" text-anchor="end" font-size="14.3">-3</text>
<text x="69.5" y="662.2" text-anchor="end" font-size="14.3">-2</text>
<text x="69.5" y="631.9" text-anchor="end" font-size="14.3">-1</text>
<text x="69.5" y="601.7" text-anchor="end" font-size="14.3">0</text>
<text x="69.5" y="571.5" text-anchor="end" font-size="14.3">1</text>
<text x="69.5" y="541.2" text-anchor="end" font-size="14.3">2</text>
<text x="69.5" y="511" text-anchor="end" font-size="14.3">3</text>
<text transform="translate(51.8,594.6) rotate(-90)" text-anchor="middle" font-size="14.7">Current (nA)</text>
<text x="190" y="718.5" text-anchor="middle" font-size="14.7">Bias (V)</text>
<text x="27.8" y="513" font-size="19.3">e</text>
<path d="M80.5,520H114.5" stroke="#000000" stroke-width="1.7"/>
<text x="117.9" y="524.9" font-size="14.6">DL-Tip<tspan font-size="9.2" dy="4.4">0</tspan></text>
<path d="M80.5,543.2H114.5" stroke="#3456a6" stroke-width="1.3"/>
<text x="117.9" y="548.1" font-size="14.6">DL-Tip<tspan font-size="9.2" dy="4.4">up</tspan></text>
<path d="M80.5,566.8H114.5" stroke="#b3469a" stroke-width="2"/>
<text x="117.9" y="571.7" font-size="14.6">DL-Tip<tspan font-size="9.2" dy="4.4">down</tspan></text>
<defs>
<linearGradient id="gslab" x1="0" y1="0" x2="1" y2="0"><stop offset="0" stop-color="#c9c9c9"/><stop offset="1" stop-color="#a9a9a9"/></linearGradient>
<linearGradient id="gtip" x1="0" y1="0" x2="1" y2="0"><stop offset="0" stop-color="#cfcfcf"/><stop offset="0.55" stop-color="#b5b5b5"/><stop offset="1" stop-color="#808080"/></linearGradient>
<linearGradient id="gsub" x1="0" y1="0" x2="0" y2="1"><stop offset="0" stop-color="#86bfa6"/><stop offset="0.45" stop-color="#8fcdb2"/><stop offset="1" stop-color="#b4ecd6"/></linearGradient>
<radialGradient id="gbs" cx="0.45" cy="0.36" r="0.65"><stop offset="0" stop-color="#8fb8ee"/><stop offset="0.4" stop-color="#3f72c4"/><stop offset="1" stop-color="#142e6e"/></radialGradient>
<radialGradient id="grs" cx="0.42" cy="0.38" r="0.65"><stop offset="0" stop-color="#ffb0a8"/><stop offset="0.45" stop-color="#e84a44"/><stop offset="1" stop-color="#9c1c1c"/></radialGradient>
</defs>
<path d="M203,381.6L209.5,385.2L209.5,387.8L203,384.2z" fill="#8c8c8c"/>
<path d="M209.5,385.2L265.4,378L265.4,380.6L209.5,387.8z" fill="#9d9d9d"/>
<path d="M203,381.6L260,375.8L265.4,378L209.5,385.2z" fill="url(#gslab)"/>
<path d="M210.3,386.6L226.6,385L218.4,402z" fill="url(#gtip)"/>
<path d="M261.2,378.5V431.8L239.4,438.4" fill="none" stroke="#b0b0b0" stroke-width="1.3"/>
<rect x="259.2" y="411.8" width="4" height="3.6" fill="#fff"/>
<path d="M257,412.6h8.4M259,414.8h4.4" stroke="#7d9fe0" stroke-width="1.1"/>
<circle cx="261.2" cy="398.9" r="6.6" fill="#8eaee6"/>
<text x="261.2" y="402.5" text-anchor="middle" font-size="10" style="fill:#fff">A</text>
<rect x="199.8" y="436.8" width="39.6" height="4.2" fill="url(#gsub)"/>
<text x="254.2" y="443.6" font-size="10.6" style="fill:#959595">L-ZnO</text>
<path d="M227.7,386.8V395.9H225.7L229.6,401.3L233.5,395.9H231.5V386.8z" fill="#3a72d2"/>
<text x="234.4" y="396.4" font-size="9.3">down</text>
<polyline points="227.9,411.5 227.8,411.4 227.5,411.3 226.9,411.3 226.2,411.3 225.3,411.2 224.3,411.3 223.1,411.3 221.9,411.4 220.5,411.6 219.2,411.8 217.8,412 216.5,412.3 215.3,412.7 214.1,413 213.1,413.5 212.2,413.9 211.6,414.4 211.1,414.9 210.8,415.4 210.7,415.9" fill="none" stroke="#1f7a52" stroke-width="2.3" stroke-linejoin="round" stroke-linecap="round" />
<polyline points="227.9,420.2 227.9,420.1 227.7,420.1 227.3,420 226.7,419.9 226,419.9 225,419.9 223.9,420 222.7,420 221.4,420.2 220.1,420.3 218.7,420.5 217.4,420.8 216.1,421.1 214.9,421.5 213.8,421.9 212.8,422.3 212,422.7 211.4,423.2 210.9,423.7 210.7,424.2 210.7,424.8" fill="none" stroke="#1f7a52" stroke-width="2.3" stroke-linejoin="round" stroke-linecap="round" />
<polyline points="227.9,428.9 227.9,428.8 227.6,428.7 227.1,428.6 226.5,428.6 225.7,428.6 224.7,428.6 223.5,428.6 222.3,428.7 221,428.9 219.6,429.1 218.3,429.3 216.9,429.6 215.7,429.9 214.5,430.3 213.4,430.7 212.5,431.1 211.8,431.6 211.2,432.1 210.8,432.6 210.7,433.1 210.8,433.6" fill="none" stroke="#1f7a52" stroke-width="2.3" stroke-linejoin="round" stroke-linecap="round" />
<path d="M219.7,438.4V406.4" stroke="#333" stroke-width="1.4"/>
<path d="M219.7,404l2.3,4.6h-4.6z" fill="#333"/>
<polyline points="227.9,411.5 227.8,411.4" fill="none" stroke="#1f8a5a" stroke-width="3.105" stroke-linejoin="round" stroke-linecap="round" />
<polyline points="210.8,415.4 210.7,415.9 210.8,416.4 211.2,416.9 211.8,417.4 212.5,417.9 213.4,418.3 214.5,418.7 215.7,419.1 216.9,419.4 218.3,419.7 219.6,419.9 221,420.1 222.3,420.3 223.5,420.4 224.7,420.4 225.7,420.4 226.5,420.4 227.1,420.4 227.6,420.3 227.9,420.2 227.9,420.1" fill="none" stroke="#1f8a5a" stroke-width="3.105" stroke-linejoin="round" stroke-linecap="round" />
<polyline points="210.7,424.2 210.7,424.8 210.9,425.3 211.4,425.8 212,426.3 212.8,426.7 213.8,427.1 214.9,427.5 216.1,427.9 217.4,428.2 218.7,428.5 220.1,428.7 221.4,428.8 222.7,429 223.9,429 225,429.1 226,429.1 226.7,429.1 227.3,429 227.7,428.9 227.9,428.9 227.9,428.8" fill="none" stroke="#1f8a5a" stroke-width="3.105" stroke-linejoin="round" stroke-linecap="round" />
<polyline points="210.7,433.1 210.8,433.6 211.1,434.1 211.6,434.6 212.2,435.1 213.1,435.5 214.1,436 215.3,436.3 216.5,436.7 217.8,437 219.2,437.2 220.5,437.4 221.9,437.6 223.1,437.7 224.3,437.7 225.3,437.8 226.2,437.7 226.9,437.7 227.5,437.7 227.8,437.6 227.9,437.5" fill="none" stroke="#1f8a5a" stroke-width="3.105" stroke-linejoin="round" stroke-linecap="round" />
<polyline points="227.9,411.5 227.8,411.4" fill="none" stroke="#4fd097" stroke-width="1.6099999999999999" stroke-linejoin="round" stroke-linecap="round" />
<polyline points="210.8,415.4 210.7,415.9 210.8,416.4 211.2,416.9 211.8,417.4 212.5,417.9 213.4,418.3 214.5,418.7 215.7,419.1 216.9,419.4 218.3,419.7 219.6,419.9 221,420.1 222.3,420.3 223.5,420.4 224.7,420.4 225.7,420.4 226.5,420.4 227.1,420.4 227.6,420.3 227.9,420.2 227.9,420.1" fill="none" stroke="#4fd097" stroke-width="1.6099999999999999" stroke-linejoin="round" stroke-linecap="round" />
<polyline points="210.7,424.2 210.7,424.8 210.9,425.3 211.4,425.8 212,426.3 212.8,426.7 213.8,427.1 214.9,427.5 216.1,427.9 217.4,428.2 218.7,428.5 220.1,428.7 221.4,428.8 222.7,429 223.9,429 225,429.1 226,429.1 226.7,429.1 227.3,429 227.7,428.9 227.9,428.9 227.9,428.8" fill="none" stroke="#4fd097" stroke-width="1.6099999999999999" stroke-linejoin="round" stroke-linecap="round" />
<polyline points="210.7,433.1 210.8,433.6 211.1,434.1 211.6,434.6 212.2,435.1 213.1,435.5 214.1,436 215.3,436.3 216.5,436.7 217.8,437 219.2,437.2 220.5,437.4 221.9,437.6 223.1,437.7 224.3,437.7 225.3,437.8 226.2,437.7 226.9,437.7 227.5,437.7 227.8,437.6 227.9,437.5" fill="none" stroke="#4fd097" stroke-width="1.6099999999999999" stroke-linejoin="round" stroke-linecap="round" />
<path d="M226.9,416.4v4.2" stroke="#3567c8" stroke-width="1.8"/>
<path d="M226.9,424.2l2.5,-4.8h-5z" fill="#3567c8"/>
<ellipse cx="226.9" cy="415" rx="5.8" ry="1.8" fill="none" stroke="#111" stroke-width="0.75" transform="rotate(-8 226.9 414.4)"/>
<circle cx="226.9" cy="414.4" r="3.3" fill="url(#gbs)"/>
<path d="M221.1,415 a5.8,1.8 0 0 0 11.5,0" fill="none" stroke="#111" stroke-width="0.75" transform="rotate(-8 226.9 414.4)"/>
<path d="M211.8,426.4v4.6" stroke="#3567c8" stroke-width="1.8"/>
<path d="M211.8,434.6l2.5,-4.8h-5z" fill="#3567c8"/>
<ellipse cx="211.8" cy="424.8" rx="6.5" ry="2" fill="none" stroke="#111" stroke-width="0.75" transform="rotate(-8 211.8 424.2)"/>
<circle cx="211.8" cy="424.2" r="3.7" fill="url(#gbs)"/>
<path d="M205.3,424.8 a6.5,2 0 0 0 13,0" fill="none" stroke="#111" stroke-width="0.75" transform="rotate(-8 211.8 424.2)"/>
<path d="M550.6,381.8L557,386L557,388.6L550.6,384.4z" fill="#8c8c8c"/>
<path d="M557,386L612.4,377.2L612.4,379.8L557,388.6z" fill="#9d9d9d"/>
<path d="M550.6,381.8L607.4,374.6L612.4,377.2L557,386z" fill="url(#gslab)"/>
<path d="M557.9,386.8L574.2,385.2L565.7,402.6z" fill="url(#gtip)"/>
<path d="M608.4,377.7V431.8L585.6,438.4" fill="none" stroke="#b0b0b0" stroke-width="1.3"/>
<rect x="606.4" y="411.8" width="4" height="3.6" fill="#fff"/>
<path d="M604.2,412.6h8.4M606.2,414.8h4.4" stroke="#7d9fe0" stroke-width="1.1"/>
<circle cx="608.4" cy="398.9" r="6.6" fill="#8eaee6"/>
<text x="608.4" y="402.5" text-anchor="middle" font-size="10" style="fill:#fff">A</text>
<rect x="545.6" y="436.8" width="40" height="4.2" fill="url(#gsub)"/>
<text x="601.6" y="443.6" font-size="10.6" style="fill:#959595">D-ZnO</text>
<path d="M576.6,400.2V391.6H574.7L578.6,386.2L582.5,391.6H580.6V400.2z" fill="#3a72d2"/>
<text x="582.8" y="399.4" font-size="9.3">up</text>
<polyline points="555.7,412.5 555.8,412.4 556.1,412.3 556.7,412.3 557.4,412.2 558.3,412.2 559.3,412.2 560.5,412.3 561.7,412.4 563.1,412.5 564.4,412.7 565.8,412.9 567.1,413.2 568.3,413.6 569.5,413.9 570.5,414.3 571.4,414.8 572,415.3 572.5,415.7 572.8,416.2 572.9,416.8" fill="none" stroke="#1f7a52" stroke-width="2.3" stroke-linejoin="round" stroke-linecap="round" />
<polyline points="555.7,420.9 555.7,420.8 555.9,420.7 556.3,420.6 556.9,420.6 557.6,420.5 558.6,420.5 559.7,420.6 560.9,420.6 562.2,420.8 563.5,420.9 564.9,421.1 566.2,421.4 567.5,421.7 568.7,422 569.8,422.4 570.8,422.8 571.6,423.3 572.2,423.7 572.7,424.2 572.9,424.7 572.9,425.3" fill="none" stroke="#1f7a52" stroke-width="2.3" stroke-linejoin="round" stroke-linecap="round" />
<polyline points="555.7,429.2 555.7,429.1 556,429 556.5,429 557.1,428.9 557.9,428.9 558.9,428.9 560.1,428.9 561.3,429 562.6,429.1 564,429.3 565.3,429.5 566.7,429.8 567.9,430.1 569.1,430.5 570.2,430.9 571.1,431.3 571.8,431.8 572.4,432.2 572.8,432.7 572.9,433.2 572.8,433.8" fill="none" stroke="#1f7a52" stroke-width="2.3" stroke-linejoin="round" stroke-linecap="round" />
<path d="M564.5,438.4V406.6" stroke="#333" stroke-width="1.4"/>
<path d="M564.5,404.2l2.3,4.6h-4.6z" fill="#333"/>
<polyline points="555.7,412.5 555.8,412.4" fill="none" stroke="#1f8a5a" stroke-width="3.105" stroke-linejoin="round" stroke-linecap="round" />
<polyline points="572.8,416.2 572.9,416.8 572.8,417.3 572.4,417.8 571.8,418.2 571.1,418.7 570.2,419.1 569.1,419.5 567.9,419.9 566.7,420.2 565.3,420.5 564,420.7 562.6,420.9 561.3,421 560.1,421.1 558.9,421.1 557.9,421.1 557.1,421.1 556.5,421 556,421 555.7,420.9 555.7,420.8" fill="none" stroke="#1f8a5a" stroke-width="3.105" stroke-linejoin="round" stroke-linecap="round" />
<polyline points="572.9,424.7 572.9,425.3 572.7,425.8 572.2,426.3 571.6,426.7 570.8,427.2 569.8,427.6 568.7,428 567.5,428.3 566.2,428.6 564.9,428.9 563.5,429.1 562.2,429.2 560.9,429.4 559.7,429.4 558.6,429.5 557.6,429.5 556.9,429.4 556.3,429.4 555.9,429.3 555.7,429.2 555.7,429.1" fill="none" stroke="#1f8a5a" stroke-width="3.105" stroke-linejoin="round" stroke-linecap="round" />
<polyline points="572.9,433.2 572.8,433.8 572.5,434.3 572,434.7 571.4,435.2 570.5,435.7 569.5,436.1 568.3,436.4 567.1,436.8 565.8,437.1 564.4,437.3 563.1,437.5 561.7,437.6 560.5,437.7 559.3,437.8 558.3,437.8 557.4,437.8 556.7,437.7 556.1,437.7 555.8,437.6 555.7,437.5" fill="none" stroke="#1f8a5a" stroke-width="3.105" stroke-linejoin="round" stroke-linecap="round" />
<polyline points="555.7,412.5 555.8,412.4" fill="none" stroke="#4fd097" stroke-width="1.6099999999999999" stroke-linejoin="round" stroke-linecap="round" />
<polyline points="572.8,416.2 572.9,416.8 572.8,417.3 572.4,417.8 571.8,418.2 571.1,418.7 570.2,419.1 569.1,419.5 567.9,419.9 566.7,420.2 565.3,420.5 564,420.7 562.6,420.9 561.3,421 560.1,421.1 558.9,421.1 557.9,421.1 557.1,421.1 556.5,421 556,421 555.7,420.9 555.7,420.8" fill="none" stroke="#4fd097" stroke-width="1.6099999999999999" stroke-linejoin="round" stroke-linecap="round" />
<polyline points="572.9,424.7 572.9,425.3 572.7,425.8 572.2,426.3 571.6,426.7 570.8,427.2 569.8,427.6 568.7,428 567.5,428.3 566.2,428.6 564.9,428.9 563.5,429.1 562.2,429.2 560.9,429.4 559.7,429.4 558.6,429.5 557.6,429.5 556.9,429.4 556.3,429.4 555.9,429.3 555.7,429.2 555.7,429.1" fill="none" stroke="#4fd097" stroke-width="1.6099999999999999" stroke-linejoin="round" stroke-linecap="round" />
<polyline points="572.9,433.2 572.8,433.8 572.5,434.3 572,434.7 571.4,435.2 570.5,435.7 569.5,436.1 568.3,436.4 567.1,436.8 565.8,437.1 564.4,437.3 563.1,437.5 561.7,437.6 560.5,437.7 559.3,437.8 558.3,437.8 557.4,437.8 556.7,437.7 556.1,437.7 555.8,437.6 555.7,437.5" fill="none" stroke="#4fd097" stroke-width="1.6099999999999999" stroke-linejoin="round" stroke-linecap="round" />
<path d="M556.8,415.3v-4.2" stroke="#e23a36" stroke-width="1.8"/>
<path d="M556.8,407.5l2.5,4.8h-5z" fill="#e23a36"/>
<ellipse cx="556.8" cy="417.8" rx="5.6" ry="1.8" fill="none" stroke="#111" stroke-width="0.75" transform="rotate(-8 556.8 417.2)"/>
<circle cx="556.8" cy="417.2" r="3.2" fill="url(#grs)"/>
<path d="M551.2,417.8 a5.6,1.8 0 0 0 11.2,0" fill="none" stroke="#111" stroke-width="0.75" transform="rotate(-8 556.8 417.2)"/>
<path d="M573.2,429v-4.2" stroke="#e23a36" stroke-width="1.8"/>
<path d="M573.2,421.2l2.5,4.8h-5z" fill="#e23a36"/>
<ellipse cx="573.2" cy="431.6" rx="5.8" ry="1.8" fill="none" stroke="#111" stroke-width="0.75" transform="rotate(-8 573.2 431)"/>
<circle cx="573.2" cy="431" r="3.3" fill="url(#grs)"/>
<path d="M567.4,431.6 a5.8,1.8 0 0 0 11.5,0" fill="none" stroke="#111" stroke-width="0.75" transform="rotate(-8 573.2 431)"/>
<path d="M219.4,610.4L226.1,615L226.1,617.6L219.4,613z" fill="#8c8c8c"/>
<path d="M226.1,615L280.2,605.4L280.2,608L226.1,617.6z" fill="#9d9d9d"/>
<path d="M219.4,610.4L275,602.4L280.2,605.4L226.1,615z" fill="url(#gslab)"/>
<path d="M226.4,615.6L242.6,614L234.4,630.4z" fill="url(#gtip)"/>
<path d="M276.2,605.9V660.4L254,666.2" fill="none" stroke="#b0b0b0" stroke-width="1.3"/>
<rect x="274.2" y="639.4" width="4" height="3.6" fill="#fff"/>
<path d="M272,640.2h8.4M274,642.4h4.4" stroke="#7d9fe0" stroke-width="1.1"/>
<circle cx="276.2" cy="626.4" r="6.6" fill="#8eaee6"/>
<text x="276.2" y="630" text-anchor="middle" font-size="10" style="fill:#fff">A</text>
<rect x="214.6" y="664.6" width="39.4" height="4.2" fill="url(#gsub)"/>
<text x="263.6" y="673.4" font-size="10.6" style="fill:#959595">DL-ZnO</text>
<path d="M218.5,615.8V625.2H216.5L220.4,630.6L224.3,625.2H222.3V615.8z" fill="#3a72d2"/>
<text x="190.4" y="625.8" font-size="9.3">down</text>
<path d="M244.9,628.8V619.4H242.9L246.8,614L250.7,619.4H248.8V628.8z" fill="#3a72d2"/>
<text x="251.4" y="626.6" font-size="9.3">up</text>
<polyline points="225.2,641.5 225.3,641.4 225.6,641.3 226.2,641.2 226.9,641.2 227.8,641.2 228.8,641.2 230,641.2 231.2,641.3 232.6,641.4 233.9,641.6 235.3,641.9 236.6,642.1 237.8,642.5 239,642.8 240,643.2 240.9,643.6 241.5,644.1 242,644.6 242.3,645.1 242.4,645.6" fill="none" stroke="#1f7a52" stroke-width="2.3" stroke-linejoin="round" stroke-linecap="round" />
<polyline points="225.2,649.6 225.2,649.5 225.4,649.4 225.8,649.3 226.4,649.2 227.1,649.2 228.1,649.2 229.2,649.2 230.4,649.2 231.7,649.3 233,649.5 234.4,649.7 235.7,649.9 237,650.2 238.2,650.6 239.3,650.9 240.3,651.4 241.1,651.8 241.7,652.3 242.2,652.8 242.4,653.2 242.4,653.8" fill="none" stroke="#1f7a52" stroke-width="2.3" stroke-linejoin="round" stroke-linecap="round" />
<polyline points="225.2,657.5 225.2,657.4 225.5,657.3 226,657.3 226.6,657.2 227.4,657.2 228.4,657.2 229.6,657.2 230.8,657.3 232.1,657.4 233.5,657.6 234.8,657.8 236.2,658 237.4,658.3 238.6,658.7 239.7,659.1 240.6,659.5 241.3,660 241.9,660.4 242.3,660.9 242.4,661.4 242.3,661.9" fill="none" stroke="#1f7a52" stroke-width="2.3" stroke-linejoin="round" stroke-linecap="round" />
<path d="M234.2,666.4V635.6" stroke="#333" stroke-width="1.4"/>
<path d="M234.2,633.2l2.3,4.6h-4.6z" fill="#333"/>
<polyline points="225.2,641.5 225.3,641.4" fill="none" stroke="#1f8a5a" stroke-width="3.105" stroke-linejoin="round" stroke-linecap="round" />
<polyline points="242.3,645.1 242.4,645.6 242.3,646.1 241.9,646.6 241.3,647 240.6,647.5 239.7,647.9 238.6,648.3 237.4,648.7 236.2,649 234.8,649.2 233.5,649.4 232.1,649.6 230.8,649.7 229.6,649.8 228.4,649.8 227.4,649.8 226.6,649.8 226,649.7 225.5,649.7 225.2,649.6 225.2,649.5" fill="none" stroke="#1f8a5a" stroke-width="3.105" stroke-linejoin="round" stroke-linecap="round" />
<polyline points="242.4,653.2 242.4,653.8 242.2,654.2 241.7,654.7 241.1,655.2 240.3,655.6 239.3,656.1 238.2,656.4 237,656.8 235.7,657.1 234.4,657.3 233,657.5 231.7,657.7 230.4,657.8 229.2,657.8 228.1,657.8 227.1,657.8 226.4,657.8 225.8,657.7 225.4,657.6 225.2,657.5 225.2,657.4" fill="none" stroke="#1f8a5a" stroke-width="3.105" stroke-linejoin="round" stroke-linecap="round" />
<polyline points="242.4,661.4 242.3,661.9 242,662.4 241.5,662.9 240.9,663.4 240,663.8 239,664.2 237.8,664.5 236.6,664.9 235.3,665.1 233.9,665.4 232.6,665.6 231.2,665.7 230,665.8 228.8,665.8 227.8,665.8 226.9,665.8 226.2,665.8 225.6,665.7 225.3,665.6 225.2,665.5" fill="none" stroke="#1f8a5a" stroke-width="3.105" stroke-linejoin="round" stroke-linecap="round" />
<polyline points="225.2,641.5 225.3,641.4" fill="none" stroke="#4fd097" stroke-width="1.6099999999999999" stroke-linejoin="round" stroke-linecap="round" />
<polyline points="242.3,645.1 242.4,645.6 242.3,646.1 241.9,646.6 241.3,647 240.6,647.5 239.7,647.9 238.6,648.3 237.4,648.7 236.2,649 234.8,649.2 233.5,649.4 232.1,649.6 230.8,649.7 229.6,649.8 228.4,649.8 227.4,649.8 226.6,649.8 226,649.7 225.5,649.7 225.2,649.6 225.2,649.5" fill="none" stroke="#4fd097" stroke-width="1.6099999999999999" stroke-linejoin="round" stroke-linecap="round" />
<polyline points="242.4,653.2 242.4,653.8 242.2,654.2 241.7,654.7 241.1,655.2 240.3,655.6 239.3,656.1 238.2,656.4 237,656.8 235.7,657.1 234.4,657.3 233,657.5 231.7,657.7 230.4,657.8 229.2,657.8 228.1,657.8 227.1,657.8 226.4,657.8 225.8,657.7 225.4,657.6 225.2,657.5 225.2,657.4" fill="none" stroke="#4fd097" stroke-width="1.6099999999999999" stroke-linejoin="round" stroke-linecap="round" />
<polyline points="242.4,661.4 242.3,661.9 242,662.4 241.5,662.9 240.9,663.4 240,663.8 239,664.2 237.8,664.5 236.6,664.9 235.3,665.1 233.9,665.4 232.6,665.6 231.2,665.7 230,665.8 228.8,665.8 227.8,665.8 226.9,665.8 226.2,665.8 225.6,665.7 225.3,665.6 225.2,665.5" fill="none" stroke="#4fd097" stroke-width="1.6099999999999999" stroke-linejoin="round" stroke-linecap="round" />
<path d="M229,642.6v-3.6" stroke="#e23a36" stroke-width="1.8"/>
<path d="M229,635.4l2.5,4.8h-5z" fill="#e23a36"/>
<ellipse cx="229" cy="645.2" rx="5.8" ry="1.8" fill="none" stroke="#111" stroke-width="0.75" transform="rotate(-8 229 644.6)"/>
<circle cx="229" cy="644.6" r="3.3" fill="url(#grs)"/>
<path d="M223.2,645.2 a5.8,1.8 0 0 0 11.5,0" fill="none" stroke="#111" stroke-width="0.75" transform="rotate(-8 229 644.6)"/>
<path d="M241,652.8v3.6" stroke="#3567c8" stroke-width="1.8"/>
<path d="M241,660l2.5,-4.8h-5z" fill="#3567c8"/>
<ellipse cx="241" cy="651.4" rx="5.8" ry="1.8" fill="none" stroke="#111" stroke-width="0.75" transform="rotate(-8 241 650.8)"/>
<circle cx="241" cy="650.8" r="3.3" fill="url(#gbs)"/>
<path d="M235.2,651.4 a5.8,1.8 0 0 0 11.5,0" fill="none" stroke="#111" stroke-width="0.75" transform="rotate(-8 241 650.8)"/>
<defs>
<radialGradient id="gsun" cx="0.5" cy="0.5" r="0.5"><stop offset="0" stop-color="#ffe600"/><stop offset="0.55" stop-color="#ffd800"/><stop offset="0.8" stop-color="#fbc400"/><stop offset="1" stop-color="#f5b000"/></radialGradient>
<radialGradient id="gglow" cx="0.5" cy="0.5" r="0.5"><stop offset="0" stop-color="#fff59a" stop-opacity="0.95"/><stop offset="0.5" stop-color="#fff8bc" stop-opacity="0.65"/><stop offset="1" stop-color="#fffde0" stop-opacity="0"/></radialGradient>
<radialGradient id="globe" cx="0.40" cy="0.56" r="0.60"><stop offset="0" stop-color="#7fe0b0"/><stop offset="0.4" stop-color="#59c894"/><stop offset="0.8" stop-color="#3aa977"/><stop offset="1" stop-color="#2c9366"/></radialGradient>
<radialGradient id="globe2" cx="0.38" cy="0.48" r="0.60"><stop offset="0" stop-color="#7fe0b0"/><stop offset="0.4" stop-color="#59c894"/><stop offset="0.8" stop-color="#3aa977"/><stop offset="1" stop-color="#2c9366"/></radialGradient>
<linearGradient id="gdarkUR" x1="0.75" y1="0.05" x2="0.35" y2="0.6"><stop offset="0" stop-color="#0d3a27" stop-opacity="0.85"/><stop offset="0.55" stop-color="#15583b" stop-opacity="0.45"/><stop offset="1" stop-color="#1e6e4b" stop-opacity="0"/></linearGradient>
<linearGradient id="gdarkR" x1="1" y1="0.3" x2="0.45" y2="0.55"><stop offset="0" stop-color="#0f4530" stop-opacity="0.7"/><stop offset="0.6" stop-color="#1a6242" stop-opacity="0.3"/><stop offset="1" stop-color="#1e6e4b" stop-opacity="0"/></linearGradient>
<linearGradient id="gflareT" x1="0" y1="0" x2="1" y2="0.6"><stop offset="0" stop-color="#3cae7b"/><stop offset="0.5" stop-color="#2b8e62"/><stop offset="1" stop-color="#134a32"/></linearGradient>
<linearGradient id="gflareB" x1="0.5" y1="0" x2="0.35" y2="1"><stop offset="0" stop-color="#2f9668"/><stop offset="0.5" stop-color="#41b380"/><stop offset="1" stop-color="#4cc08c"/></linearGradient>
<radialGradient id="ghole" cx="0.45" cy="0.4" r="0.6"><stop offset="0" stop-color="#e48078"/><stop offset="1" stop-color="#9a3634"/></radialGradient>
<radialGradient id="gelec" cx="0.45" cy="0.4" r="0.6"><stop offset="0" stop-color="#80aee0"/><stop offset="1" stop-color="#2c548e"/></radialGradient>
<radialGradient id="gred2" cx="0.42" cy="0.38" r="0.65"><stop offset="0" stop-color="#e88a86"/><stop offset="0.6" stop-color="#c9555a"/><stop offset="1" stop-color="#9c3a44"/></radialGradient>
<radialGradient id="gblu2" cx="0.42" cy="0.38" r="0.65"><stop offset="0" stop-color="#8ab6de"/><stop offset="0.55" stop-color="#4a7fb6"/><stop offset="1" stop-color="#2a4f82"/></radialGradient>
</defs>
<defs><filter id="blur2" x="-30%" y="-30%" width="160%" height="160%"><feGaussianBlur stdDeviation="2.2"/></filter>
<filter id="blur15" x="-30%" y="-30%" width="160%" height="160%"><feGaussianBlur stdDeviation="1.6"/></filter>
<filter id="blur06" x="-20%" y="-20%" width="140%" height="140%"><feGaussianBlur stdDeviation="0.6"/></filter>
<filter id="blur3" x="-50%" y="-50%" width="200%" height="200%"><feGaussianBlur stdDeviation="3.5"/></filter>
<filter id="blur1" x="-30%" y="-30%" width="160%" height="160%"><feGaussianBlur stdDeviation="0.9"/></filter></defs>
<ellipse cx="397" cy="546" rx="30" ry="19" fill="url(#gglow)" transform="rotate(42 397 546)"/>
<ellipse cx="392" cy="541" rx="20" ry="13" fill="url(#gglow)" transform="rotate(42 392 541)"/>
<circle cx="380.5" cy="531" r="23" fill="url(#gglow)"/>
<polygon points="397.5,533.1 390.4,535 392.7,540.2 387.1,539.5 387.2,546.8 381.9,541.7 378.6,546.3 376.4,541 370.1,544.8 371.9,537.7 366.2,537 369.7,532.5 363.3,528.9 370.4,527 368.1,521.8 373.7,522.5 373.6,515.2 378.9,520.3 382.2,515.7 384.4,521 390.7,517.2 388.9,524.3 394.6,525 391.1,529.5" fill="#f9bf10" stroke="#fbc92a" stroke-width="1.6" stroke-linejoin="round" filter="url(#blur06)"/>
<circle cx="380.4" cy="531.0" r="11.8" fill="url(#gsun)" filter="url(#blur06)"/>
<circle cx="382.5" cy="534.5" r="5.5" fill="#fff04a" opacity="0.75" filter="url(#blur15)"/>
<defs><clipPath id="cbf1"><path d="M413.8,665 C406.8,672 396,678 393,687 Q418.4,691 444.5,686.2 C435.5,678.2 421.7,669.9 419.2,663.4 z"/></clipPath><clipPath id="clo1"><path d="M416.4,606 C402.3,615.4 388.9,624.4 388.9,634.8 C388.9,645.7 401,655.2 413.8,665 L419.2,663.4 C428.2,656.9 444.5,646 444.5,632 C443.8,621 426.3,616.3 416.4,606 z"/></clipPath><clipPath id="cup1"><path d="M414.6,548 C414.6,554.2 389.6,561.7 388.2,574 C388.2,585.6 402,595.6 416.4,606 C430.4,595.1 443.8,584.7 443.8,572.6 C443.8,560.6 431.5,550.6 421.5,544.6 z"/></clipPath><clipPath id="ctf1"><path d="M397.1,528 Q417.3,532.5 433.5,534.2 L421.5,544.6 L414.6,548 Q411.1,539.5 397.1,528 z"/></clipPath></defs>
<g clip-path="url(#cbf1)"><path d="M413.8,665 C406.8,672 396,678 393,687 Q418.4,691 444.5,686.2 C435.5,678.2 421.7,669.9 419.2,663.4 z" fill="url(#gflareB)"/>
<path d="M418.2,661.4 C421.7,669.9 435.5,678.2 446.5,686.2 L435.5,685.2 C429.5,677.2 418.2,673.4 416.2,663.4 z" fill="#0f3f2b" opacity="0.9" filter="url(#blur2)"/>
<ellipse cx="409" cy="683" rx="13" ry="8" fill="#6fd6a5" opacity="0.75" filter="url(#blur3)"/></g>
<g clip-path="url(#clo1)"><path d="M416.4,606 C402.3,615.4 388.9,624.4 388.9,634.8 C388.9,645.7 401,655.2 413.8,665 L419.2,663.4 C428.2,656.9 444.5,646 444.5,632 C443.8,621 426.3,616.3 416.4,606 z" fill="url(#globe2)"/>
<path d="M414.9,604 C426.3,614.3 443.8,620 446.5,634 L443,641.5 C438.5,623 422.9,621 413.9,609.5 z" fill="#0b3523" opacity="0.88" filter="url(#blur15)"/>
</g>
<g clip-path="url(#cup1)"><path d="M414.6,548 C414.6,554.2 389.6,561.7 388.2,574 C388.2,585.6 402,595.6 416.4,606 C430.4,595.1 443.8,584.7 443.8,572.6 C443.8,560.6 431.5,550.6 421.5,544.6 z" fill="url(#globe)"/>
<path d="M418.5,541.6 C431.5,548.6 444.8,559.6 445.8,575.6 L443.3,581.6 C437.8,563.6 428,559.6 418.5,547.1 z" fill="#0a2e1f" opacity="0.9" filter="url(#blur15)"/>
</g>
<path d="M397.1,528 Q417.3,532.5 433.5,534.2 L421.5,544.6 L414.6,548 Q411.1,539.5 397.1,528 z" fill="url(#gflareT)"/>
<defs><clipPath id="cbf2"><path d="M501.8,660.8 C494.8,667.8 482.8,677.4 479.8,686.4 Q506.4,691 533.4,685.6 C524.4,677.6 508.9,666.1 506.4,659.6 z"/></clipPath><clipPath id="clo2"><path d="M504.6,601.4 C490.8,611.4 477.6,620.9 477.6,632 C477.6,642.4 489.4,651.4 501.8,660.8 L506.4,659.6 C515.4,653.1 532.9,642 532.9,628 C532.2,617 514.5,611.7 504.6,601.4 z"/></clipPath><clipPath id="cup2"><path d="M503.6,545 C503.6,551.2 478.1,560.3 476.7,572.6 C476.7,583 490.3,592 504.6,601.4 C518.7,591.2 532.2,581.4 532.2,570 C532.2,558 519.4,546.6 509.4,540.6 z"/></clipPath><clipPath id="ctf2"><path d="M489,528 Q505.4,532.4 517.8,533.9 L509.4,540.6 L503.6,545 Q500.1,536.5 489,528 z"/></clipPath></defs>
<g clip-path="url(#cbf2)"><path d="M501.8,660.8 C494.8,667.8 482.8,677.4 479.8,686.4 Q506.4,691 533.4,685.6 C524.4,677.6 508.9,666.1 506.4,659.6 z" fill="url(#gflareB)"/>
<path d="M505.4,657.6 C508.9,666.1 524.4,677.6 535.4,685.6 L524.4,684.6 C518.4,676.6 505.4,669.6 503.4,659.6 z" fill="#0f3f2b" opacity="0.9" filter="url(#blur2)"/>
<ellipse cx="495.8" cy="682.4" rx="13" ry="8" fill="#6fd6a5" opacity="0.75" filter="url(#blur3)"/></g>
<g clip-path="url(#clo2)"><path d="M504.6,601.4 C490.8,611.4 477.6,620.9 477.6,632 C477.6,642.4 489.4,651.4 501.8,660.8 L506.4,659.6 C515.4,653.1 532.9,642 532.9,628 C532.2,617 514.5,611.7 504.6,601.4 z" fill="url(#globe2)"/>
<path d="M503.1,599.4 C514.5,609.7 532.2,616 534.9,630 L531.4,637.5 C526.9,619 511.1,616.4 502.1,604.9 z" fill="#0b3523" opacity="0.88" filter="url(#blur15)"/>
</g>
<g clip-path="url(#cup2)"><path d="M503.6,545 C503.6,551.2 478.1,560.3 476.7,572.6 C476.7,583 490.3,592 504.6,601.4 C518.7,591.2 532.2,581.4 532.2,570 C532.2,558 519.4,546.6 509.4,540.6 z" fill="url(#globe)"/>
<path d="M506.4,537.6 C519.4,544.6 533.2,557 534.2,573 L531.7,579 C526.2,561 515.9,555.6 506.4,543.1 z" fill="#0a2e1f" opacity="0.9" filter="url(#blur15)"/>
</g>
<path d="M489,528 Q505.4,532.4 517.8,533.9 L509.4,540.6 L503.6,545 Q500.1,536.5 489,528 z" fill="url(#gflareT)"/>
<text x="373.2" y="512.6" font-size="19.3">f</text>
<text x="513.5" y="712" text-anchor="middle" font-size="14.9">Spin-polarized carrier generation</text>
<path d="M413.4,572.1L413.4,561.6" stroke="#d8605c" stroke-width="1.6"/>
<path d="M413.4,559.4L415.5,561.6L411.3,561.6z" fill="#d8605c"/>
<circle cx="413.4" cy="567.6" r="3.5" fill="url(#ghole)"/>
<text x="413.6" y="569.8" font-size="6.2" text-anchor="middle" style="fill:#1a0000">h<tspan font-size="4.5" dy="-2">+</tspan></text>
<path d="M406,579.3L400,570.7" stroke="#d8605c" stroke-width="1.6"/>
<path d="M398.7,568.9L401.7,569.5L398.2,571.9z" fill="#d8605c"/>
<circle cx="403.4" cy="575.6" r="3.5" fill="url(#ghole)"/>
<text x="403.6" y="577.8" font-size="6.2" text-anchor="middle" style="fill:#1a0000">h<tspan font-size="4.5" dy="-2">+</tspan></text>
<path d="M431.7,582.6L422.6,577.4" stroke="#d8605c" stroke-width="1.6"/>
<path d="M420.7,576.3L423.7,575.6L421.6,579.2z" fill="#d8605c"/>
<circle cx="427.8" cy="580.4" r="3.5" fill="url(#ghole)"/>
<text x="428" y="582.6" font-size="6.2" text-anchor="middle" style="fill:#1a0000">h<tspan font-size="4.5" dy="-2">+</tspan></text>
<path d="M414.4,594.7L419.6,585.6" stroke="#d8605c" stroke-width="1.6"/>
<path d="M420.7,583.7L421.4,586.7L417.8,584.6z" fill="#d8605c"/>
<circle cx="416.6" cy="590.8" r="3.5" fill="url(#ghole)"/>
<text x="416.8" y="593" font-size="6.2" text-anchor="middle" style="fill:#1a0000">h<tspan font-size="4.5" dy="-2">+</tspan></text>
<path d="M408.5,629.9L399.4,624.6" stroke="#4f86cc" stroke-width="1.6"/>
<path d="M397.5,623.5L400.5,622.8L398.4,626.4z" fill="#4f86cc"/>
<circle cx="404.6" cy="627.6" r="3.5" fill="url(#gelec)"/>
<text x="404.8" y="629.6" font-size="6.2" text-anchor="middle" style="fill:#061430">e<tspan font-size="4.5" dy="-2.2">-</tspan></text>
<path d="M424.7,623.8L415.6,629" stroke="#4f86cc" stroke-width="1.6"/>
<path d="M413.7,630.1L414.6,627.2L416.7,630.8z" fill="#4f86cc"/>
<circle cx="420.8" cy="626" r="3.5" fill="url(#gelec)"/>
<text x="421" y="628" font-size="6.2" text-anchor="middle" style="fill:#061430">e<tspan font-size="4.5" dy="-2.2">-</tspan></text>
<path d="M402.2,646.9L412,643.3" stroke="#4f86cc" stroke-width="1.6"/>
<path d="M414.1,642.6L412.8,645.3L411.3,641.4z" fill="#4f86cc"/>
<circle cx="406.4" cy="645.4" r="3.5" fill="url(#gelec)"/>
<text x="406.6" y="647.4" font-size="6.2" text-anchor="middle" style="fill:#061430">e<tspan font-size="4.5" dy="-2.2">-</tspan></text>
<path d="M416.3,643.6L423.1,651.6" stroke="#4f86cc" stroke-width="1.6"/>
<path d="M424.5,653.3L421.4,652.9L424.7,650.2z" fill="#4f86cc"/>
<circle cx="419.2" cy="647" r="3.5" fill="url(#gelec)"/>
<text x="419.4" y="649" font-size="6.2" text-anchor="middle" style="fill:#061430">e<tspan font-size="4.5" dy="-2.2">-</tspan></text>
<path d="M497.6,569.6V584.8" stroke="#c4505a" stroke-width="1.2"/>
<path d="M497.6,568l2,3.2h-4z" fill="#c4505a"/>
<ellipse cx="497.6" cy="577.2" rx="3.7" ry="4.6" fill="url(#gred2)"/>
<path d="M511,569.6V584.8" stroke="#c4505a" stroke-width="1.2"/>
<path d="M511,568l2,3.2h-4z" fill="#c4505a"/>
<ellipse cx="511" cy="577.2" rx="3.7" ry="4.6" fill="url(#gred2)"/>
<path d="M496.6,628.6V643.8" stroke="#4a78b8" stroke-width="1.2"/>
<path d="M496.6,627l2,3.2h-4z" fill="#4a78b8"/>
<ellipse cx="496.6" cy="636.2" rx="3.7" ry="4.6" fill="url(#gblu2)"/>
<path d="M509.2,628.2V643.4" stroke="#4a78b8" stroke-width="1.2"/>
<path d="M509.2,626.6l2,3.2h-4z" fill="#4a78b8"/>
<ellipse cx="509.2" cy="635.8" rx="3.7" ry="4.6" fill="url(#gblu2)"/>
<path d="M446.4,606.6H468" stroke="#000" stroke-width="1.7"/>
<path d="M475.2,606.6l-8.6,-3.7v7.4z" fill="#000"/>
<circle cx="458.8" cy="607" r="17.4" fill="none" stroke="#f2b418" stroke-width="2.5" stroke-linecap="round" stroke-dasharray="0.01 4.45"/>
<ellipse cx="597.5" cy="604.5" rx="66" ry="88.5" fill="none" stroke="#f2b418" stroke-width="2.5" stroke-linecap="round" stroke-dasharray="0.01 4.45"/>
<path d="M466.4,587.8 L563.6,527.6" fill="none" stroke="#f2b418" stroke-width="2.5" stroke-linecap="round" stroke-dasharray="0.01 4.45"/>
<path d="M475.6,624.4 L569,683.4" fill="none" stroke="#f2b418" stroke-width="2.5" stroke-linecap="round" stroke-dasharray="0.01 4.45"/>
<path d="M557.4,676.8 L570.6,685" stroke="#f2b418" stroke-width="2.5" stroke-linecap="round"/>
<defs>
<linearGradient id="gbigU" gradientUnits="userSpaceOnUse" x1="556" y1="586" x2="598" y2="556"><stop offset="0" stop-color="#2f9a6b"/><stop offset="0.35" stop-color="#62cf9c"/><stop offset="0.7" stop-color="#46b985"/><stop offset="1" stop-color="#2a8c60"/></linearGradient>
<linearGradient id="gbigL" gradientUnits="userSpaceOnUse" x1="600" y1="650" x2="640" y2="612"><stop offset="0" stop-color="#3fb07e"/><stop offset="0.5" stop-color="#5acb98"/><stop offset="1" stop-color="#2f9668"/></linearGradient>
</defs>
<path d="M589.9,605.2 L591,612.8 Q593,624 596.5,634.8 Q599,646 602,656.8 L607.5,667.7 Q613,667.5 619.5,664.4 L609.7,643.6 L598.7,619.4 L593.8,605.2z" fill="#1c7a50"/>
<path d="M594.3,599.7 Q602,604.5 611.9,608.4 Q623,612.5 633.8,617.2 Q646,622.5 655.8,628.2 Q649,632 644.8,637 Q637,643 631.6,650.2 Q624,658 619.5,664.4 L609.7,643.6 L598.7,619.4 L591.5,603z" fill="url(#gbigL)"/>
<path d="M543.8,570 Q547,564.5 551.5,560.1 Q555.5,555.3 560.3,551.4 Q566,547.6 572.3,544.8 Q579,541.6 585.5,539.3 Q590.5,548 594.3,557.9 Q597.6,569 597.6,579.9 Q597.2,591 594.3,599.7 L592,604.5 L588.8,606.2 Q583,603.5 578.9,599.7 Q567,592.5 557,583.2 Q549.5,577 543.8,570z" fill="url(#gbigU)"/>
<path d="M543.8,570 L553.4,571.6 Q572,587 590.4,603.6 L588.8,606.2 Q583,603.5 578.9,599.7 Q567,592.5 557,583.2 Q549.5,577 543.8,570z" fill="#1f7d53"/>
<path d="M543.8,570 Q547,564.5 551.5,560.1 Q555.5,555.3 560.3,551.4 Q566,547.6 572.3,544.8 Q579,541.6 585.5,539.3" fill="none" stroke="#7fdcae" stroke-width="0.9"/>
<path d="M559.2,570 L593.2,601.9 L622.4,642.6" fill="none" stroke="#3a3a3a" stroke-width="0.7"/>
<path d="M623.6,645.0l-3.8,-2.2l2.6,-1.8z" fill="#111"/>
<polyline points="570,551.5 571.3,551.1 572.6,550.7 573.8,550.5 575,550.3 576.2,550.1 577.3,550 578.3,550 579.3,550.1 580.1,550.2 581,550.4 581.7,550.6 582.3,550.9 582.9,551.3 583.3,551.7 583.7,552.2 583.9,552.7 584.1,553.3 584.1,554 584.1,554.6 584,555.4 583.8,556.1 583.4,556.9 583,557.7 582.6,558.6 582,559.4 581.3,560.3 580.6,561.2 579.8,562.1 579,563 578,563.9 577.1,564.8 576.1,565.6 575,566.5 573.9,567.3 572.8,568.1 571.7,568.9 570.6,569.6 569.5,570.3 568.4,570.9 567.2,571.5 566.2,572.1 565.1,572.6 564.1,573 563.1,573.4 562.1,573.7 561.2,574 560.4,574.2 559.6,574.4 558.9,574.5 558.3,574.5 557.7,574.5 557.2,574.4 556.8,574.3 556.5,574.1 556.3,573.9 556.1,573.6 556.1,573.2 556.1,572.9 556.2,572.4 556.4,572 556.7,571.5 557.1,571 557.6,570.4 558.1,569.8 558.7,569.3 559.4,568.7 560.2,568 561,567.4 561.8,566.8 562.8,566.2 563.7,565.6 564.7,565 565.8,564.4 566.9,563.8 568,563.3 569.1,562.8 570.2,562.3 571.3,561.9 572.4,561.5 573.6,561.1 574.7,560.8 575.7,560.5 576.8,560.3 577.8,560.2 578.7,560 579.7,560 580.5,559.9 581.4,560 582.1,560.1 582.8,560.2 583.4,560.4 584,560.7 584.5,561 584.9,561.3 585.2,561.7 585.5,562.1 585.6,562.6 585.7,563.1 585.7,563.7 585.7,564.3 585.5,564.9 585.3,565.6 585,566.2 584.7,566.9 584.3,567.7 583.8,568.4 583.2,569.1 582.6,569.9 581.9,570.6 581.2,571.3 580.5,572.1 579.7,572.8 578.9,573.5 578,574.2 577.2,574.9 576.3,575.5 575.4,576.1 574.5,576.7 573.6,577.2 572.7,577.8 571.8,578.2 571,578.7 570.2,579.1 569.4,579.4 568.6,579.7 567.9,580 567.2,580.2 566.6,580.4 566,580.5 565.5,580.5 565,580.6 564.6,580.5 564.3,580.5 564,580.4 563.8,580.2 563.7,580 563.7,579.8 563.7,579.5 563.8,579.2 563.9,578.9 564.1,578.5 564.4,578.1 564.8,577.7 565.2,577.3 565.6,576.9 566.2,576.4 566.8,575.9 567.4,575.5 568.1,575 568.8,574.5 569.6,574.1 570.4,573.6 571.2,573.2 572,572.8 572.9,572.4 573.8,572 574.7,571.6 575.6,571.3 576.5,571 577.3,570.7 578.2,570.5 579.1,570.3 579.9,570.1 580.7,570 581.5,569.9 582.2,569.9 582.9,569.9 583.6,569.9 584.2,570 584.8,570.1 585.3,570.2 585.8,570.4 586.2,570.7 586.5,571 586.8,571.3 587,571.6 587.2,572 587.3,572.4 587.4,572.9 587.3,573.3 587.3,573.8 587.1,574.3 586.9,574.9 586.7,575.4 586.4,576 586.1,576.6 585.7,577.2 585.2,577.7 584.8,578.3 584.2,578.9 583.7,579.5 583.1,580.1 582.5,580.6 581.9,581.2 581.2,581.7 580.6,582.3 579.9,582.7 579.3,583.2 578.6,583.7 578,584.1 577.3,584.5 576.7,584.8 576.1,585.2 575.5,585.5 574.9,585.7 574.4,586 573.9,586.2 573.4,586.3 573,586.4 572.6,586.5 572.3,586.6 572,586.6 571.7,586.6 571.5,586.5 571.4,586.5 571.3,586.3 571.2,586.2 571.2,586 571.3,585.9 571.4,585.6 571.6,585.4 571.8,585.2 572,584.9 572.3,584.6 572.7,584.3 573.1,584 573.5,583.7 574,583.4 574.5,583.1 575,582.8 575.6,582.4 576.2,582.1 576.8,581.8 577.4,581.6 578.1,581.3 578.7,581 579.4,580.8 580,580.6 580.7,580.4 581.3,580.2 582,580.1 582.6,579.9 583.2,579.8 583.8,579.8 584.4,579.7 585,579.7 585.5,579.7 586,579.8 586.5,579.9 586.9,580 587.3,580.1 587.6,580.3 588,580.5 588.2,580.7 588.5,580.9 588.6,581.2 588.8,581.5 588.9,581.8 588.9,582.1 589,582.5 588.9,582.9 588.9,583.3 588.8,583.7 588.6,584.1 588.4,584.5 588.2,584.9 588,585.3 587.7,585.8 587.4,586.2 587.1,586.7 586.7,587.1 586.3,587.5 585.9,587.9 585.5,588.3 585.1,588.7 584.7,589.1 584.3,589.5 583.8,589.9 583.4,590.2 583,590.5 582.6,590.8 582.2,591.1 581.8,591.4 581.4,591.6 581,591.8 580.7,592 580.4,592.2 580.1,592.3 579.8,592.4 579.6,592.5 579.3,592.6 579.2,592.6 579,592.7 578.9,592.7 578.8,592.7 578.8,592.6 578.8,592.6 578.8,592.5 578.8,592.4 578.9,592.3 579,592.2 579.2,592.1 579.4,591.9 579.6,591.8 579.8,591.6 580.1,591.5 580.4,591.3 580.7,591.1 581.1,591 581.4,590.8 581.8,590.7 582.2,590.5 582.6,590.4 583,590.2 583.4,590.1 583.9,590 584.3,589.9 584.7,589.8 585.1,589.7 585.6,589.6 586,589.6 586.4,589.5 586.8,589.5 587.2,589.5 587.6,589.5 587.9,589.5 588.3,589.6 588.6,589.7 588.9,589.8 589.1,589.9 589.4,590 589.6,590.1 589.8,590.3 590,590.4 590.2,590.6 590.3,590.8 590.4,591 590.5,591.3 590.5,591.5 590.6,591.8 590.6,592 590.6,592.3 590.5,592.6 590.5,592.8 590.4,593.1 590.3,593.4 590.2,593.7 590,594 589.9,594.3 589.7,594.5 589.5,594.8 589.4,595.1 589.2,595.4 589,595.6 588.8,595.9 588.6,596.1 588.4,596.4 588.2,596.6 588,596.8 587.8,597 587.6,597.2 587.4,597.4 587.2,597.6 587.1,597.8 586.9,597.9 586.8,598.1 586.7,598.2 586.5,598.3 586.4,598.4 586.4,598.5 586.3,598.6 586.2,598.6 586.2,598.7 586.2,598.7 586.2,598.8 586.2,598.8 586.3,598.8 586.3,598.8 586.4,598.9 586.5,598.9 586.6,598.9 586.7,598.8 586.8,598.8 586.9,598.8 587.1,598.8 587.3,598.8 587.4,598.8 587.6,598.8 587.8,598.7 588,598.7 588.2,598.7 588.4,598.7 588.6,598.7 588.8,598.7 589,598.7 589.2,598.8 589.4,598.8 589.6,598.8 589.8,598.9 590,598.9 590.2,599 590.4,599 590.6,599.1 590.7,599.2 590.9,599.2 591,599.3 591.2,599.4 591.3,599.5 591.4,599.6 591.5,599.7 591.7,599.9 591.7,600 591.8,600.1 591.9,600.3 592,600.4 592,600.5 592.1,600.7 592.1,600.8 592.1,601 592.2,601.1 592.2,601.3 592.2,601.4 592.2,601.6 592.2,601.7 592.2,601.9 592.2,602 592.2,602.2 592.2,602.3 592.2,602.4 592.2,602.6 592.2,602.7 592.2,602.8 592.2,602.9 592.2,603.1" fill="none" stroke="#d4c9b6" stroke-width="1.2" stroke-linejoin="round" stroke-linecap="round" />
<path d="M572.2,546.8L584.8,545.8" stroke="#5b93c8" stroke-width="1.1"/>
<circle cx="584.8" cy="545.8" r="1.2" fill="#5b93c8"/>
<circle cx="572.2" cy="546.8" r="1.0" fill="#5b93c8"/>
<circle cx="578.5" cy="546.3" r="4" fill="url(#gblu2)"/>
<path d="M548.9,559.5L561.5,559.5" stroke="#5b93c8" stroke-width="1.1"/>
<circle cx="561.5" cy="559.5" r="1.2" fill="#5b93c8"/>
<circle cx="548.9" cy="559.5" r="1.0" fill="#5b93c8"/>
<circle cx="555.2" cy="559.5" r="4" fill="url(#gblu2)"/>
<path d="M578,563.1L585.2,552.7" stroke="#5b93c8" stroke-width="1.1"/>
<circle cx="585.2" cy="552.7" r="1.2" fill="#5b93c8"/>
<circle cx="578" cy="563.1" r="1.0" fill="#5b93c8"/>
<circle cx="581.6" cy="557.9" r="4" fill="url(#gblu2)"/>
<path d="M568.8,558.6L575,569.6" stroke="#5b93c8" stroke-width="1.1"/>
<circle cx="575" cy="569.6" r="1.2" fill="#5b93c8"/>
<circle cx="568.8" cy="558.6" r="1.0" fill="#5b93c8"/>
<circle cx="571.9" cy="564.1" r="4" fill="url(#gblu2)"/>
<path d="M610.3,637.7L622.1,633.3" stroke="#5b93c8" stroke-width="1.1"/>
<circle cx="622.1" cy="633.3" r="1.2" fill="#5b93c8"/>
<circle cx="610.3" cy="637.7" r="1.0" fill="#5b93c8"/>
<circle cx="616.2" cy="635.5" r="4" fill="url(#gblu2)"/>
<path d="M620,652.4L631.4,647" stroke="#5b93c8" stroke-width="1.1"/>
<circle cx="631.4" cy="647" r="1.2" fill="#5b93c8"/>
<circle cx="620" cy="652.4" r="1.0" fill="#5b93c8"/>
<circle cx="625.7" cy="649.7" r="4" fill="url(#gblu2)"/>
<path d="M619.0,640.2 L622.0,644.6" stroke="#000" stroke-width="0.9"/>
<path d="M623.3,646.6l-3.3,-1.6l2.4,-1.6z" fill="#000"/>
<path d="M569.5,546.5 Q580,539.5 592,546.5" fill="none" stroke="#444" stroke-width="0.8"/>
<path d="M593.4,547.6l-3.2,-0.4l1.6,-2.2z" fill="#333"/>
<text transform="translate(541.4,599.6) rotate(63.2)" font-size="14.6">CISS effect</text>
</svg>
</body></html>
